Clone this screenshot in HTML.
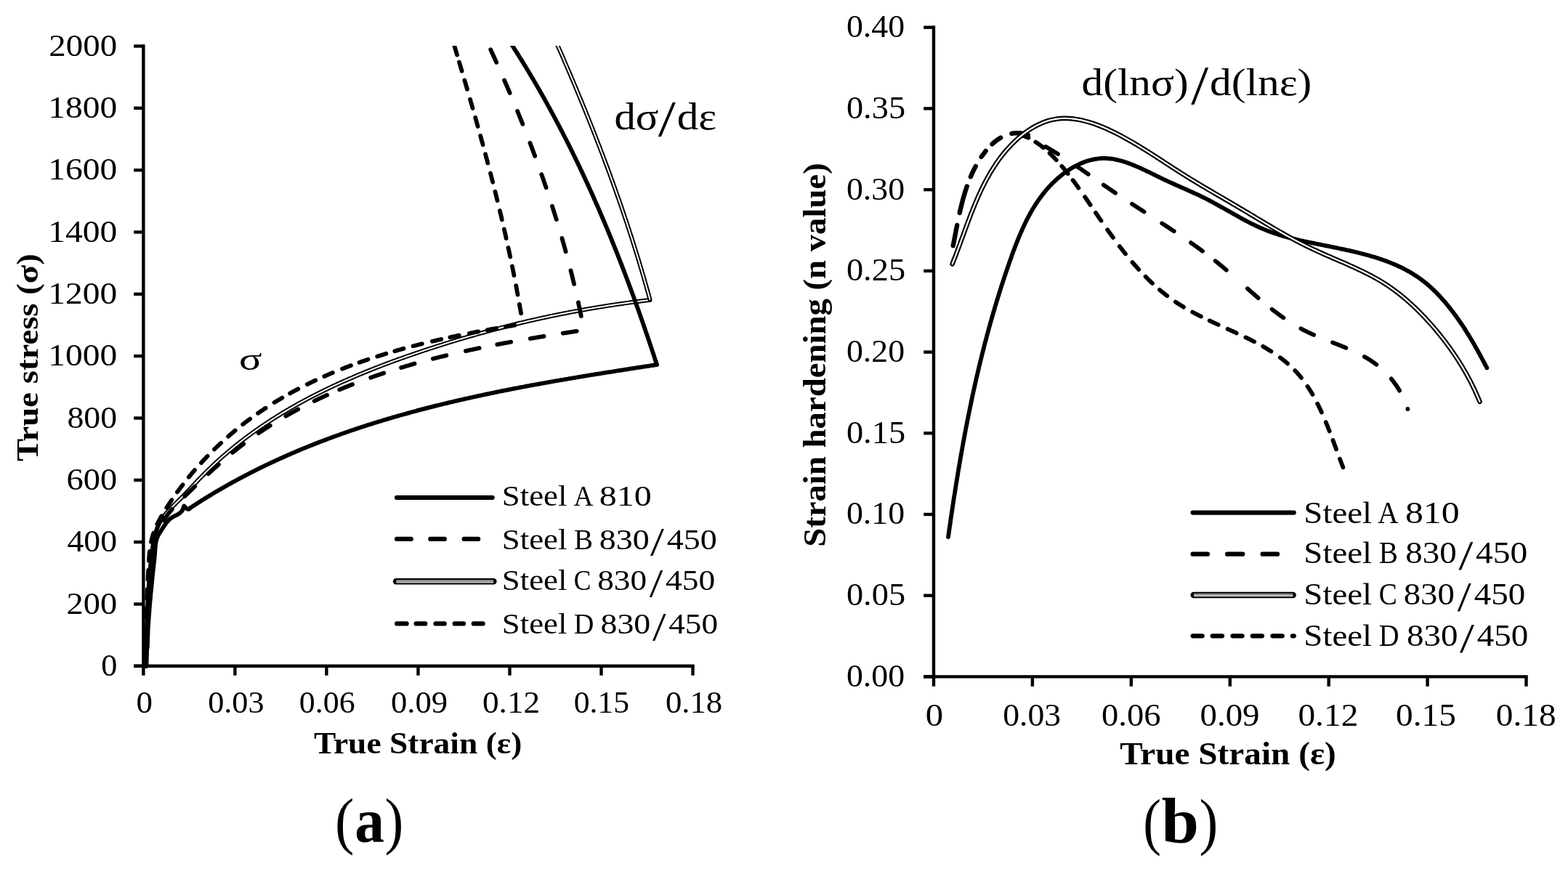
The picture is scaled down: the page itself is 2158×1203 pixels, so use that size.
<!DOCTYPE html>
<html><head><meta charset="utf-8"><title>True stress and strain hardening curves</title>
<style>html,body{margin:0;padding:0;background:#fff;overflow:hidden;width:2158px;height:1203px;}svg{display:block;}
.sa{fill:none;stroke:#000;stroke-width:5.8px;stroke-linejoin:round;stroke-linecap:round}
.sb{fill:none;stroke:#000;stroke-width:5.8px;stroke-dasharray:19.5 26;stroke-linecap:round}
.sd{fill:none;stroke:#000;stroke-width:5.8px;stroke-dasharray:13 13.5;stroke-linecap:round}
.sc1{fill:none;stroke:#000;stroke-width:7.4px;stroke-linejoin:round;stroke-linecap:round}
.sc2{fill:none;stroke:#fff;stroke-width:2.5px;stroke-linejoin:round;stroke-linecap:round}</style></head>
<body><svg width="2158" height="1203" viewBox="0 0 2158 1203">
<rect width="2158" height="1203" fill="#fff"/>
<g stroke="#000" stroke-width="4.4" stroke-linecap="butt" fill="none"><line x1="197.4" y1="61.3" x2="197.4" y2="929.7"/><line x1="184.2" y1="916.8" x2="197.4" y2="916.8"/><line x1="184.2" y1="831.5" x2="197.4" y2="831.5"/><line x1="184.2" y1="746.1" x2="197.4" y2="746.1"/><line x1="184.2" y1="660.8" x2="197.4" y2="660.8"/><line x1="184.2" y1="575.5" x2="197.4" y2="575.5"/><line x1="184.2" y1="490.1" x2="197.4" y2="490.1"/><line x1="184.2" y1="404.8" x2="197.4" y2="404.8"/><line x1="184.2" y1="319.5" x2="197.4" y2="319.5"/><line x1="184.2" y1="234.2" x2="197.4" y2="234.2"/><line x1="184.2" y1="148.8" x2="197.4" y2="148.8"/><line x1="184.2" y1="63.5" x2="197.4" y2="63.5"/><line x1="184.2" y1="916.8" x2="955.7" y2="916.8"/><line x1="323.4" y1="916.8" x2="323.4" y2="929.7"/><line x1="449.4" y1="916.8" x2="449.4" y2="929.7"/><line x1="575.5" y1="916.8" x2="575.5" y2="929.7"/><line x1="701.5" y1="916.8" x2="701.5" y2="929.7"/><line x1="827.5" y1="916.8" x2="827.5" y2="929.7"/><line x1="953.5" y1="916.8" x2="953.5" y2="929.7"/></g>
<g stroke="#000" stroke-width="4.4" stroke-linecap="butt" fill="none"><line x1="1285.0" y1="35.5" x2="1285.0" y2="944.8"/><line x1="1271.2" y1="931.4" x2="1285.0" y2="931.4"/><line x1="1271.2" y1="819.7" x2="1285.0" y2="819.7"/><line x1="1271.2" y1="708.0" x2="1285.0" y2="708.0"/><line x1="1271.2" y1="596.3" x2="1285.0" y2="596.3"/><line x1="1271.2" y1="484.6" x2="1285.0" y2="484.6"/><line x1="1271.2" y1="372.9" x2="1285.0" y2="372.9"/><line x1="1271.2" y1="261.1" x2="1285.0" y2="261.1"/><line x1="1271.2" y1="149.4" x2="1285.0" y2="149.4"/><line x1="1271.2" y1="37.7" x2="1285.0" y2="37.7"/><line x1="1271.2" y1="931.4" x2="2102.7" y2="931.4"/><line x1="1420.9" y1="931.4" x2="1420.9" y2="944.8"/><line x1="1556.8" y1="931.4" x2="1556.8" y2="944.8"/><line x1="1692.8" y1="931.4" x2="1692.8" y2="944.8"/><line x1="1828.7" y1="931.4" x2="1828.7" y2="944.8"/><line x1="1964.6" y1="931.4" x2="1964.6" y2="944.8"/><line x1="2100.5" y1="931.4" x2="2100.5" y2="944.8"/></g>
<defs><clipPath id="cl"><rect x="190" y="63.0" width="800" height="900"/></clipPath></defs>
<g clip-path="url(#cl)"><path d="M200.8,917.0 L200.9,915.0 L200.9,913.0 L200.9,910.9 L201.0,908.9 L201.0,906.9 L201.1,904.9 L201.1,902.9 L201.2,900.9 L201.2,898.9 L201.3,896.9 L201.3,894.9 L201.4,892.9 L201.4,890.8 L201.5,888.8 L201.5,886.8 L201.6,884.8 L201.6,882.8 L201.7,880.8 L201.7,878.8 L201.8,876.8 L201.8,874.9 L201.9,872.9 L201.9,870.9 L202.0,868.9 L202.0,866.9 L202.1,864.9 L202.2,862.9 L202.2,860.9 L202.3,858.9 L202.3,856.9 L202.4,854.9 L202.5,852.9 L202.6,850.9 L202.6,849.0 L202.7,847.0 L202.8,845.0 L202.9,843.0 L202.9,841.0 L203.0,839.0 L203.1,837.0 L203.2,835.0 L203.3,833.0 L203.4,831.0 L203.5,829.1 L203.6,827.1 L203.7,825.1 L203.8,823.1 L203.9,821.1 L204.0,819.1 L204.1,817.1 L204.3,815.1 L204.4,813.1 L204.5,811.1 L204.6,809.1 L204.8,807.1 L204.9,805.1 L205.1,803.1 L205.2,801.1 L205.4,799.1 L205.5,797.1 L205.7,795.1 L205.8,793.1 L206.0,791.1 L206.2,789.1 L206.4,787.1 L206.5,785.1 L206.7,783.1 L206.9,781.1 L207.1,779.1 L207.3,777.1 L207.6,775.1 L207.8,773.0 L208.0,771.0 L208.2,769.0 L208.4,767.0 L208.7,765.0 L208.9,762.9 L209.2,760.9 L209.4,758.9 L209.7,756.9 L210.0,754.8 L210.3,752.8 L210.6,750.8 L210.9,748.8 L211.2,746.8 L211.6,744.8 L212.0,742.8 L212.4,740.8 L212.8,738.8 L213.3,736.9 L213.8,735.0 L214.3,733.1 L214.9,731.2 L215.5,729.3 L216.1,727.5 L216.8,725.7 L217.6,723.9 L218.4,722.1 L219.2,720.4 L220.2,718.7 L221.1,717.0 L222.1,715.4 L223.2,713.8 L224.3,712.3 L225.4,710.7 L226.6,709.2 L227.8,707.7 L229.1,706.2 L230.4,704.7 L231.7,703.3 L233.0,701.8 L234.4,700.4 L235.7,699.0 L237.1,697.6 L238.5,696.2 L240.0,694.8 L241.4,693.4 L242.8,692.0 L244.3,690.5 L245.7,689.1 L247.1,687.7 L248.6,686.3 L250.0,684.9 L251.4,683.4 L252.8,682.0 L254.2,680.5 L255.6,679.1 L257.0,677.6 L258.4,676.1 L259.8,674.7 L261.2,673.2 L262.6,671.7 L264.0,670.2 L265.4,668.7 L266.8,667.3 L268.2,665.8 L269.6,664.3 L271.0,662.8 L272.3,661.4 L273.7,659.9 L275.1,658.4 L276.6,657.0 L278.0,655.5 L279.4,654.1 L280.8,652.6 L282.2,651.2 L283.6,649.8 L285.1,648.3 L286.5,646.9 L288.0,645.5 L289.4,644.1 L290.9,642.7 L292.3,641.3 L293.8,639.9 L295.2,638.6 L296.7,637.2 L298.2,635.8 L299.7,634.5 L301.2,633.1 L302.6,631.8 L304.1,630.5 L305.6,629.1 L307.1,627.8 L308.7,626.5 L310.2,625.2 L311.7,623.9 L313.2,622.6 L314.7,621.3 L316.3,620.0 L317.8,618.7 L319.3,617.4 L320.9,616.2 L322.4,614.9 L324.0,613.7 L325.5,612.4 L327.1,611.2 L328.7,609.9 L330.2,608.7 L331.8,607.5 L333.4,606.3 L335.0,605.0 L336.6,603.8 L338.2,602.6 L339.7,601.4 L341.3,600.3 L342.9,599.1 L344.6,597.9 L346.2,596.7 L347.8,595.6 L349.4,594.4 L351.0,593.2 L352.6,592.1 L354.3,590.9 L355.9,589.8 L357.5,588.7 L359.2,587.5 L360.8,586.4 L362.5,585.3 L364.1,584.2 L365.8,583.1 L367.4,582.0 L369.1,580.9 L370.8,579.8 L372.4,578.7 L374.1,577.7 L375.8,576.6 L377.5,575.5 L379.1,574.5 L380.8,573.4 L382.5,572.3 L384.2,571.3 L385.9,570.3 L387.6,569.2 L389.3,568.2 L391.0,567.2 L392.7,566.1 L394.4,565.1 L396.2,564.1 L397.9,563.1 L399.6,562.1 L401.3,561.1 L403.1,560.1 L404.8,559.1 L406.5,558.2 L408.3,557.2 L410.0,556.2 L411.7,555.2 L413.5,554.3 L415.2,553.3 L417.0,552.4 L418.8,551.4 L420.5,550.5 L422.3,549.5 L424.0,548.6 L425.8,547.7 L427.6,546.7 L429.3,545.8 L431.1,544.9 L432.9,544.0 L434.7,543.1 L436.5,542.2 L438.2,541.3 L440.0,540.4 L441.8,539.5 L443.6,538.6 L445.4,537.7 L447.2,536.8 L449.0,536.0 L450.8,535.1 L452.6,534.2 L454.4,533.4 L456.2,532.5 L458.0,531.7 L459.8,530.8 L461.7,530.0 L463.5,529.1 L465.3,528.3 L467.1,527.5 L468.9,526.6 L470.8,525.8 L472.6,525.0 L474.4,524.2 L476.3,523.4 L478.1,522.6 L479.9,521.8 L481.8,521.0 L483.6,520.2 L485.5,519.4 L487.3,518.6 L489.1,517.8 L491.0,517.0 L492.8,516.2 L494.7,515.4 L496.5,514.7 L498.4,513.9 L500.3,513.1 L502.1,512.4 L504.0,511.6 L505.8,510.9 L507.7,510.1 L509.6,509.4 L511.4,508.6 L513.3,507.9 L515.2,507.1 L517.0,506.4 L518.9,505.7 L520.8,504.9 L522.7,504.2 L524.5,503.5 L526.4,502.8 L528.3,502.1 L530.2,501.3 L532.1,500.6 L533.9,499.9 L535.8,499.2 L537.7,498.5 L539.6,497.8 L541.5,497.1 L543.4,496.4 L545.3,495.8 L547.1,495.1 L549.0,494.4 L550.9,493.7 L552.8,493.0 L554.7,492.4 L556.6,491.7 L558.5,491.0 L560.4,490.3 L562.3,489.7 L564.2,489.0 L566.1,488.4 L568.0,487.7 L569.9,487.1 L571.8,486.4 L573.7,485.8 L575.6,485.1 L577.5,484.5 L579.4,483.8 L581.3,483.2 L583.2,482.5 L585.1,481.9 L587.1,481.3 L589.0,480.7 L590.9,480.0 L592.8,479.4 L594.7,478.8 L596.6,478.2 L598.5,477.5 L600.4,476.9 L602.3,476.3 L604.2,475.7 L606.2,475.1 L608.1,474.5 L610.0,473.9 L611.9,473.3 L613.8,472.7 L615.7,472.1 L617.6,471.5 L619.6,470.9 L621.5,470.3 L623.4,469.7 L625.3,469.2 L627.2,468.6 L629.2,468.0 L631.1,467.4 L633.0,466.9 L634.9,466.3 L636.8,465.7 L638.8,465.1 L640.7,464.6 L642.6,464.0 L644.5,463.5 L646.5,462.9 L648.4,462.4 L650.3,461.8 L652.2,461.3 L654.2,460.7 L656.1,460.2 L658.0,459.6 L660.0,459.1 L661.9,458.5 L663.8,458.0 L665.7,457.5 L667.7,457.0 L669.6,456.4 L671.5,455.9 L673.5,455.4 L675.4,454.9 L677.3,454.3 L679.3,453.8 L681.2,453.3 L683.1,452.8 L685.1,452.3 L687.0,451.8 L689.0,451.3 L690.9,450.8 L692.8,450.3 L694.8,449.8 L696.7,449.3 L698.7,448.8 L700.6,448.3 L702.5,447.9 L704.5,447.4 L706.4,446.9 L708.4,446.4 L710.3,445.9 L712.3,445.5 L714.2,445.0 L716.1,444.5 L718.1,444.1 L720.0,443.6 L722.0,443.2 L723.9,442.7 L725.9,442.2 L727.8,441.8 L729.8,441.3 L731.7,440.9 L733.7,440.5 L735.6,440.0 L737.6,439.6 L739.5,439.1 L741.5,438.7 L743.4,438.3 L745.4,437.8 L747.3,437.4 L749.3,437.0 L751.3,436.6 L753.2,436.2 L755.2,435.7 L757.1,435.3 L759.1,434.9 L761.0,434.5 L763.0,434.1 L765.0,433.7 L766.9,433.3 L768.9,432.9 L770.8,432.5 L772.8,432.1 L774.8,431.7 L776.7,431.3 L778.7,431.0 L780.6,430.6 L782.6,430.2 L784.6,429.8 L786.5,429.4 L788.5,429.1 L790.5,428.7 L792.4,428.3 L794.4,428.0 L796.4,427.6 L798.3,427.2 L800.3,426.9 L802.3,426.5 L804.2,426.2 L806.2,425.8 L808.2,425.5 L810.2,425.1 L812.1,424.8 L814.1,424.5 L816.1,424.1 L818.0,423.8 L820.0,423.5 L822.0,423.1 L824.0,422.8 L825.9,422.5 L827.9,422.2 L829.9,421.9 L831.9,421.5 L833.8,421.2 L835.8,420.9 L837.8,420.6 L839.8,420.3 L841.8,420.0 L843.7,419.7 L845.7,419.4 L847.7,419.1 L849.7,418.8 L851.7,418.5 L853.6,418.3 L855.6,418.0 L857.6,417.7 L859.6,417.4 L861.6,417.1 L863.6,416.9 L865.6,416.6 L867.5,416.3 L869.5,416.1 L871.5,415.8 L873.5,415.5 L875.5,415.3 L877.5,415.0 L879.5,414.8 L881.5,414.5 L883.4,414.3 L885.4,414.1 L887.4,413.8 L889.4,413.6 L891.4,413.3 L893.4,413.1 L894.4,413.0" class="sc1" style="stroke-width:6.0px"/><path d="M226.6,709.2 L227.8,707.7 L229.1,706.2 L230.4,704.7 L231.7,703.3 L233.0,701.8 L234.4,700.4 L235.7,699.0 L237.1,697.6 L238.5,696.2 L240.0,694.8 L241.4,693.4 L242.8,692.0 L244.3,690.5 L245.7,689.1 L247.1,687.7 L248.6,686.3 L250.0,684.9 L251.4,683.4 L252.8,682.0 L254.2,680.5 L255.6,679.1 L257.0,677.6 L258.4,676.1 L259.8,674.7 L261.2,673.2 L262.6,671.7 L264.0,670.2 L265.4,668.7 L266.8,667.3 L268.2,665.8 L269.6,664.3 L271.0,662.8 L272.3,661.4 L273.7,659.9 L275.1,658.4 L276.6,657.0 L278.0,655.5 L279.4,654.1 L280.8,652.6 L282.2,651.2 L283.6,649.8 L285.1,648.3 L286.5,646.9 L288.0,645.5 L289.4,644.1 L290.9,642.7 L292.3,641.3 L293.8,639.9 L295.2,638.6 L296.7,637.2 L298.2,635.8 L299.7,634.5 L301.2,633.1 L302.6,631.8 L304.1,630.5 L305.6,629.1 L307.1,627.8 L308.7,626.5 L310.2,625.2 L311.7,623.9 L313.2,622.6 L314.7,621.3 L316.3,620.0 L317.8,618.7 L319.3,617.4 L320.9,616.2 L322.4,614.9 L324.0,613.7 L325.5,612.4 L327.1,611.2 L328.7,609.9 L330.2,608.7 L331.8,607.5 L333.4,606.3 L335.0,605.0 L336.6,603.8 L338.2,602.6 L339.7,601.4 L341.3,600.3 L342.9,599.1 L344.6,597.9 L346.2,596.7 L347.8,595.6 L349.4,594.4 L351.0,593.2 L352.6,592.1 L354.3,590.9 L355.9,589.8 L357.5,588.7 L359.2,587.5 L360.8,586.4 L362.5,585.3 L364.1,584.2 L365.8,583.1 L367.4,582.0 L369.1,580.9 L370.8,579.8 L372.4,578.7 L374.1,577.7 L375.8,576.6 L377.5,575.5 L379.1,574.5 L380.8,573.4 L382.5,572.3 L384.2,571.3 L385.9,570.3 L387.6,569.2 L389.3,568.2 L391.0,567.2 L392.7,566.1 L394.4,565.1 L396.2,564.1 L397.9,563.1 L399.6,562.1 L401.3,561.1 L403.1,560.1 L404.8,559.1 L406.5,558.2 L408.3,557.2 L410.0,556.2 L411.7,555.2 L413.5,554.3 L415.2,553.3 L417.0,552.4 L418.8,551.4 L420.5,550.5 L422.3,549.5 L424.0,548.6 L425.8,547.7 L427.6,546.7 L429.3,545.8 L431.1,544.9 L432.9,544.0 L434.7,543.1 L436.5,542.2 L438.2,541.3 L440.0,540.4 L441.8,539.5 L443.6,538.6 L445.4,537.7 L447.2,536.8 L449.0,536.0 L450.8,535.1 L452.6,534.2 L454.4,533.4 L456.2,532.5 L458.0,531.7 L459.8,530.8 L461.7,530.0 L463.5,529.1 L465.3,528.3 L467.1,527.5 L468.9,526.6 L470.8,525.8 L472.6,525.0 L474.4,524.2 L476.3,523.4 L478.1,522.6 L479.9,521.8 L481.8,521.0 L483.6,520.2 L485.5,519.4 L487.3,518.6 L489.1,517.8 L491.0,517.0 L492.8,516.2 L494.7,515.4 L496.5,514.7 L498.4,513.9 L500.3,513.1 L502.1,512.4 L504.0,511.6 L505.8,510.9 L507.7,510.1 L509.6,509.4 L511.4,508.6 L513.3,507.9 L515.2,507.1 L517.0,506.4 L518.9,505.7 L520.8,504.9 L522.7,504.2 L524.5,503.5 L526.4,502.8 L528.3,502.1 L530.2,501.3 L532.1,500.6 L533.9,499.9 L535.8,499.2 L537.7,498.5 L539.6,497.8 L541.5,497.1 L543.4,496.4 L545.3,495.8 L547.1,495.1 L549.0,494.4 L550.9,493.7 L552.8,493.0 L554.7,492.4 L556.6,491.7 L558.5,491.0 L560.4,490.3 L562.3,489.7 L564.2,489.0 L566.1,488.4 L568.0,487.7 L569.9,487.1 L571.8,486.4 L573.7,485.8 L575.6,485.1 L577.5,484.5 L579.4,483.8 L581.3,483.2 L583.2,482.5 L585.1,481.9 L587.1,481.3 L589.0,480.7 L590.9,480.0 L592.8,479.4 L594.7,478.8 L596.6,478.2 L598.5,477.5 L600.4,476.9 L602.3,476.3 L604.2,475.7 L606.2,475.1 L608.1,474.5 L610.0,473.9 L611.9,473.3 L613.8,472.7 L615.7,472.1 L617.6,471.5 L619.6,470.9 L621.5,470.3 L623.4,469.7 L625.3,469.2 L627.2,468.6 L629.2,468.0 L631.1,467.4 L633.0,466.9 L634.9,466.3 L636.8,465.7 L638.8,465.1 L640.7,464.6 L642.6,464.0 L644.5,463.5 L646.5,462.9 L648.4,462.4 L650.3,461.8 L652.2,461.3 L654.2,460.7 L656.1,460.2 L658.0,459.6 L660.0,459.1 L661.9,458.5 L663.8,458.0 L665.7,457.5 L667.7,457.0 L669.6,456.4 L671.5,455.9 L673.5,455.4 L675.4,454.9 L677.3,454.3 L679.3,453.8 L681.2,453.3 L683.1,452.8 L685.1,452.3 L687.0,451.8 L689.0,451.3 L690.9,450.8 L692.8,450.3 L694.8,449.8 L696.7,449.3 L698.7,448.8 L700.6,448.3 L702.5,447.9 L704.5,447.4 L706.4,446.9 L708.4,446.4 L710.3,445.9 L712.3,445.5 L714.2,445.0 L716.1,444.5 L718.1,444.1 L720.0,443.6 L722.0,443.2 L723.9,442.7 L725.9,442.2 L727.8,441.8 L729.8,441.3 L731.7,440.9 L733.7,440.5 L735.6,440.0 L737.6,439.6 L739.5,439.1 L741.5,438.7 L743.4,438.3 L745.4,437.8 L747.3,437.4 L749.3,437.0 L751.3,436.6 L753.2,436.2 L755.2,435.7 L757.1,435.3 L759.1,434.9 L761.0,434.5 L763.0,434.1 L765.0,433.7 L766.9,433.3 L768.9,432.9 L770.8,432.5 L772.8,432.1 L774.8,431.7 L776.7,431.3 L778.7,431.0 L780.6,430.6 L782.6,430.2 L784.6,429.8 L786.5,429.4 L788.5,429.1 L790.5,428.7 L792.4,428.3 L794.4,428.0 L796.4,427.6 L798.3,427.2 L800.3,426.9 L802.3,426.5 L804.2,426.2 L806.2,425.8 L808.2,425.5 L810.2,425.1 L812.1,424.8 L814.1,424.5 L816.1,424.1 L818.0,423.8 L820.0,423.5 L822.0,423.1 L824.0,422.8 L825.9,422.5 L827.9,422.2 L829.9,421.9 L831.9,421.5 L833.8,421.2 L835.8,420.9 L837.8,420.6 L839.8,420.3 L841.8,420.0 L843.7,419.7 L845.7,419.4 L847.7,419.1 L849.7,418.8 L851.7,418.5 L853.6,418.3 L855.6,418.0 L857.6,417.7 L859.6,417.4 L861.6,417.1 L863.6,416.9 L865.6,416.6 L867.5,416.3 L869.5,416.1 L871.5,415.8 L873.5,415.5 L875.5,415.3 L877.5,415.0 L879.5,414.8 L881.5,414.5 L883.4,414.3 L885.4,414.1 L887.4,413.8 L889.4,413.6 L891.4,413.3 L893.4,413.1 L894.4,413.0" class="sc2" style="stroke-width:2.0px"/><path d="M765.0,57.0 L765.8,58.8 L766.6,60.7 L767.4,62.5 L768.2,64.3 L769.0,66.2 L769.8,68.0 L770.7,69.9 L771.5,71.7 L772.3,73.5 L773.1,75.4 L773.9,77.2 L774.7,79.0 L775.5,80.9 L776.3,82.7 L777.0,84.6 L777.8,86.4 L778.6,88.3 L779.4,90.1 L780.2,91.9 L781.0,93.8 L781.8,95.6 L782.6,97.5 L783.4,99.3 L784.2,101.2 L785.0,103.0 L785.7,104.9 L786.5,106.7 L787.3,108.5 L788.1,110.4 L788.9,112.2 L789.6,114.1 L790.4,115.9 L791.2,117.8 L792.0,119.6 L792.7,121.5 L793.5,123.3 L794.3,125.2 L795.1,127.1 L795.8,128.9 L796.6,130.8 L797.4,132.6 L798.1,134.5 L798.9,136.3 L799.7,138.2 L800.4,140.0 L801.2,141.9 L801.9,143.7 L802.7,145.6 L803.5,147.5 L804.2,149.3 L805.0,151.2 L805.7,153.0 L806.5,154.9 L807.2,156.8 L808.0,158.6 L808.7,160.5 L809.5,162.3 L810.2,164.2 L811.0,166.1 L811.7,167.9 L812.5,169.8 L813.2,171.7 L813.9,173.5 L814.7,175.4 L815.4,177.3 L816.2,179.1 L816.9,181.0 L817.6,182.9 L818.3,184.7 L819.1,186.6 L819.8,188.5 L820.5,190.3 L821.3,192.2 L822.0,194.1 L822.7,196.0 L823.4,197.8 L824.2,199.7 L824.9,201.6 L825.6,203.4 L826.3,205.3 L827.0,207.2 L827.7,209.1 L828.5,210.9 L829.2,212.8 L829.9,214.7 L830.6,216.6 L831.3,218.5 L832.0,220.3 L832.7,222.2 L833.4,224.1 L834.1,226.0 L834.8,227.9 L835.5,229.7 L836.2,231.6 L836.9,233.5 L837.6,235.4 L838.3,237.3 L839.0,239.1 L839.7,241.0 L840.3,242.9 L841.0,244.8 L841.7,246.7 L842.4,248.6 L843.1,250.5 L843.8,252.3 L844.4,254.2 L845.1,256.1 L845.8,258.0 L846.5,259.9 L847.1,261.8 L847.8,263.7 L848.5,265.6 L849.1,267.5 L849.8,269.4 L850.5,271.3 L851.1,273.1 L851.8,275.0 L852.4,276.9 L853.1,278.8 L853.8,280.7 L854.4,282.6 L855.1,284.5 L855.7,286.4 L856.4,288.3 L857.0,290.2 L857.6,292.1 L858.3,294.0 L858.9,295.9 L859.6,297.8 L860.2,299.7 L860.9,301.6 L861.5,303.5 L862.1,305.4 L862.8,307.3 L863.4,309.2 L864.0,311.1 L864.6,313.1 L865.3,315.0 L865.9,316.9 L866.5,318.8 L867.1,320.7 L867.7,322.6 L868.4,324.5 L869.0,326.4 L869.6,328.3 L870.2,330.2 L870.8,332.1 L871.4,334.1 L872.0,336.0 L872.6,337.9 L873.2,339.8 L873.8,341.7 L874.4,343.6 L875.0,345.5 L875.6,347.5 L876.2,349.4 L876.8,351.3 L877.4,353.2 L878.0,355.1 L878.6,357.0 L879.1,359.0 L879.7,360.9 L880.3,362.8 L880.9,364.7 L881.4,366.7 L882.0,368.6 L882.6,370.5 L883.2,372.4 L883.7,374.3 L884.3,376.3 L884.9,378.2 L885.4,380.1 L886.0,382.1 L886.5,384.0 L887.1,385.9 L887.6,387.8 L888.2,389.8 L888.7,391.7 L889.3,393.6 L889.8,395.6 L890.4,397.5 L890.9,399.4 L891.5,401.4 L892.0,403.3 L892.5,405.2 L893.1,407.2 L893.6,409.1 L894.1,411.0 L894.4,412.0" class="sc1" style="stroke-width:6.0px"/><path d="M765.0,57.0 L765.8,58.8 L766.6,60.7 L767.4,62.5 L768.2,64.3 L769.0,66.2 L769.8,68.0 L770.7,69.9 L771.5,71.7 L772.3,73.5 L773.1,75.4 L773.9,77.2 L774.7,79.0 L775.5,80.9 L776.3,82.7 L777.0,84.6 L777.8,86.4 L778.6,88.3 L779.4,90.1 L780.2,91.9 L781.0,93.8 L781.8,95.6 L782.6,97.5 L783.4,99.3 L784.2,101.2 L785.0,103.0 L785.7,104.9 L786.5,106.7 L787.3,108.5 L788.1,110.4 L788.9,112.2 L789.6,114.1 L790.4,115.9 L791.2,117.8 L792.0,119.6 L792.7,121.5 L793.5,123.3 L794.3,125.2 L795.1,127.1 L795.8,128.9 L796.6,130.8 L797.4,132.6 L798.1,134.5 L798.9,136.3 L799.7,138.2 L800.4,140.0 L801.2,141.9 L801.9,143.7 L802.7,145.6 L803.5,147.5 L804.2,149.3 L805.0,151.2 L805.7,153.0 L806.5,154.9 L807.2,156.8 L808.0,158.6 L808.7,160.5 L809.5,162.3 L810.2,164.2 L811.0,166.1 L811.7,167.9 L812.5,169.8 L813.2,171.7 L813.9,173.5 L814.7,175.4 L815.4,177.3 L816.2,179.1 L816.9,181.0 L817.6,182.9 L818.3,184.7 L819.1,186.6 L819.8,188.5 L820.5,190.3 L821.3,192.2 L822.0,194.1 L822.7,196.0 L823.4,197.8 L824.2,199.7 L824.9,201.6 L825.6,203.4 L826.3,205.3 L827.0,207.2 L827.7,209.1 L828.5,210.9 L829.2,212.8 L829.9,214.7 L830.6,216.6 L831.3,218.5 L832.0,220.3 L832.7,222.2 L833.4,224.1 L834.1,226.0 L834.8,227.9 L835.5,229.7 L836.2,231.6 L836.9,233.5 L837.6,235.4 L838.3,237.3 L839.0,239.1 L839.7,241.0 L840.3,242.9 L841.0,244.8 L841.7,246.7 L842.4,248.6 L843.1,250.5 L843.8,252.3 L844.4,254.2 L845.1,256.1 L845.8,258.0 L846.5,259.9 L847.1,261.8 L847.8,263.7 L848.5,265.6 L849.1,267.5 L849.8,269.4 L850.5,271.3 L851.1,273.1 L851.8,275.0 L852.4,276.9 L853.1,278.8 L853.8,280.7 L854.4,282.6 L855.1,284.5 L855.7,286.4 L856.4,288.3 L857.0,290.2 L857.6,292.1 L858.3,294.0 L858.9,295.9 L859.6,297.8 L860.2,299.7 L860.9,301.6 L861.5,303.5 L862.1,305.4 L862.8,307.3 L863.4,309.2 L864.0,311.1 L864.6,313.1 L865.3,315.0 L865.9,316.9 L866.5,318.8 L867.1,320.7 L867.7,322.6 L868.4,324.5 L869.0,326.4 L869.6,328.3 L870.2,330.2 L870.8,332.1 L871.4,334.1 L872.0,336.0 L872.6,337.9 L873.2,339.8 L873.8,341.7 L874.4,343.6 L875.0,345.5 L875.6,347.5 L876.2,349.4 L876.8,351.3 L877.4,353.2 L878.0,355.1 L878.6,357.0 L879.1,359.0 L879.7,360.9 L880.3,362.8 L880.9,364.7 L881.4,366.7 L882.0,368.6 L882.6,370.5 L883.2,372.4 L883.7,374.3 L884.3,376.3 L884.9,378.2 L885.4,380.1 L886.0,382.1 L886.5,384.0 L887.1,385.9 L887.6,387.8 L888.2,389.8 L888.7,391.7 L889.3,393.6 L889.8,395.6 L890.4,397.5 L890.9,399.4 L891.5,401.4 L892.0,403.3 L892.5,405.2 L893.1,407.2 L893.6,409.1 L894.1,411.0 L894.4,412.0" class="sc2" style="stroke-width:2.0px"/><path d="M201.5,917.0 L201.5,915.0 L201.6,913.0 L201.6,911.0 L201.7,909.0 L201.8,907.0 L201.8,905.0 L201.9,903.0 L202.0,900.9 L202.0,898.9 L202.1,896.9 L202.2,894.9 L202.3,892.9 L202.4,890.9 L202.4,888.9 L202.5,886.9 L202.6,884.9 L202.7,882.9 L202.8,880.9 L202.9,878.9 L203.0,876.8 L203.2,874.8 L203.3,872.8 L203.4,870.8 L203.5,868.8 L203.6,866.8 L203.7,864.8 L203.9,862.8 L204.0,860.8 L204.1,858.8 L204.3,856.8 L204.4,854.8 L204.6,852.8 L204.7,850.7 L204.8,848.7 L205.0,846.7 L205.1,844.7 L205.3,842.7 L205.5,840.7 L205.6,838.7 L205.8,836.7 L205.9,834.7 L206.1,832.7 L206.3,830.7 L206.4,828.7 L206.6,826.7 L206.8,824.7 L207.0,822.7 L207.2,820.7 L207.3,818.7 L207.5,816.7 L207.7,814.7 L207.9,812.7 L208.1,810.7 L208.3,808.7 L208.5,806.7 L208.7,804.7 L208.9,802.7 L209.1,800.7 L209.3,798.7 L209.5,796.7 L209.7,794.7 L209.9,792.7 L210.1,790.7 L210.3,788.7 L210.5,786.7 L210.8,784.7 L211.0,782.7 L211.2,780.7 L211.4,778.7 L211.6,776.8 L211.9,774.8 L212.1,772.8 L212.3,770.8 L212.5,768.8 L212.7,766.8 L212.9,764.7 L213.1,762.7 L213.2,760.7 L213.4,758.7 L213.5,756.6 L213.6,754.6 L213.8,752.5 L214.0,750.5 L214.2,748.5 L214.6,746.5 L215.0,744.6 L215.4,742.6 L216.1,740.8 L216.8,738.9 L217.6,737.1 L218.6,735.4 L219.6,733.7 L220.7,732.0 L221.8,730.3 L222.9,728.6 L224.0,726.8 L225.1,725.1 L226.2,723.4 L227.4,721.8 L228.5,720.1 L229.8,718.5 L231.1,717.0 L232.4,715.6 L233.9,714.3 L235.5,713.1 L237.1,712.0 L238.9,711.0 L240.7,710.1 L242.5,709.2 L244.3,708.2 L246.0,707.2 L247.5,706.1 L249.0,704.9 L250.3,703.5 L251.3,701.9 L252.1,700.0 L252.7,697.9 L253.3,696.5 L254.7,697.7 L256.4,699.6 L258.3,700.8 L260.1,700.8 L262.0,699.0" class="sa"/><path d="M262.0,699.0 L263.7,697.9 L265.4,696.8 L267.1,695.7 L268.8,694.6 L270.5,693.5 L272.2,692.4 L273.9,691.3 L275.6,690.2 L277.3,689.1 L279.0,688.1 L280.7,687.0 L282.4,685.9 L284.2,684.9 L285.9,683.8 L287.6,682.8 L289.3,681.7 L291.0,680.7 L292.8,679.6 L294.5,678.6 L296.2,677.6 L297.9,676.6 L299.7,675.5 L301.4,674.5 L303.2,673.5 L304.9,672.5 L306.6,671.5 L308.4,670.5 L310.1,669.5 L311.9,668.5 L313.6,667.5 L315.4,666.5 L317.1,665.6 L318.9,664.6 L320.6,663.6 L322.4,662.7 L324.1,661.7 L325.9,660.7 L327.7,659.8 L329.4,658.8 L331.2,657.9 L333.0,657.0 L334.7,656.0 L336.5,655.1 L338.3,654.2 L340.1,653.2 L341.8,652.3 L343.6,651.4 L345.4,650.5 L347.2,649.6 L349.0,648.7 L350.8,647.8 L352.5,646.9 L354.3,646.0 L356.1,645.1 L357.9,644.2 L359.7,643.3 L361.5,642.5 L363.3,641.6 L365.1,640.7 L366.9,639.9 L368.7,639.0 L370.5,638.1 L372.3,637.3 L374.1,636.4 L375.9,635.6 L377.7,634.8 L379.6,633.9 L381.4,633.1 L383.2,632.3 L385.0,631.4 L386.8,630.6 L388.6,629.8 L390.5,629.0 L392.3,628.2 L394.1,627.4 L395.9,626.5 L397.8,625.7 L399.6,625.0 L401.4,624.2 L403.3,623.4 L405.1,622.6 L406.9,621.8 L408.8,621.0 L410.6,620.2 L412.4,619.5 L414.3,618.7 L416.1,617.9 L418.0,617.2 L419.8,616.4 L421.7,615.7 L423.5,614.9 L425.4,614.2 L427.2,613.4 L429.1,612.7 L430.9,612.0 L432.8,611.2 L434.6,610.5 L436.5,609.8 L438.3,609.0 L440.2,608.3 L442.1,607.6 L443.9,606.9 L445.8,606.2 L447.7,605.5 L449.5,604.8 L451.4,604.1 L453.3,603.4 L455.1,602.7 L457.0,602.0 L458.9,601.3 L460.7,600.6 L462.6,599.9 L464.5,599.3 L466.4,598.6 L468.3,597.9 L470.1,597.2 L472.0,596.6 L473.9,595.9 L475.8,595.3 L477.7,594.6 L479.6,593.9 L481.4,593.3 L483.3,592.6 L485.2,592.0 L487.1,591.4 L489.0,590.7 L490.9,590.1 L492.8,589.5 L494.7,588.8 L496.6,588.2 L498.5,587.6 L500.4,587.0 L502.3,586.3 L504.2,585.7 L506.1,585.1 L508.0,584.5 L509.9,583.9 L511.8,583.3 L513.7,582.7 L515.6,582.1 L517.5,581.5 L519.4,580.9 L521.4,580.3 L523.3,579.7 L525.2,579.2 L527.1,578.6 L529.0,578.0 L530.9,577.4 L532.8,576.9 L534.8,576.3 L536.7,575.7 L538.6,575.2 L540.5,574.6 L542.4,574.0 L544.4,573.5 L546.3,572.9 L548.2,572.4 L550.1,571.8 L552.1,571.3 L554.0,570.7 L555.9,570.2 L557.8,569.7 L559.8,569.1 L561.7,568.6 L563.6,568.1 L565.6,567.5 L567.5,567.0 L569.4,566.5 L571.4,566.0 L573.3,565.4 L575.2,564.9 L577.2,564.4 L579.1,563.9 L581.0,563.4 L583.0,562.9 L584.9,562.4 L586.9,561.9 L588.8,561.4 L590.8,560.9 L592.7,560.4 L594.6,559.9 L596.6,559.4 L598.5,558.9 L600.5,558.4 L602.4,557.9 L604.4,557.5 L606.3,557.0 L608.3,556.5 L610.2,556.0 L612.2,555.5 L614.1,555.1 L616.1,554.6 L618.0,554.1 L620.0,553.7 L621.9,553.2 L623.9,552.8 L625.8,552.3 L627.8,551.8 L629.7,551.4 L631.7,550.9 L633.7,550.5 L635.6,550.0 L637.6,549.6 L639.5,549.1 L641.5,548.7 L643.4,548.3 L645.4,547.8 L647.4,547.4 L649.3,547.0 L651.3,546.5 L653.3,546.1 L655.2,545.7 L657.2,545.2 L659.1,544.8 L661.1,544.4 L663.1,544.0 L665.0,543.5 L667.0,543.1 L669.0,542.7 L670.9,542.3 L672.9,541.9 L674.9,541.5 L676.8,541.1 L678.8,540.7 L680.8,540.2 L682.7,539.8 L684.7,539.4 L686.7,539.0 L688.7,538.6 L690.6,538.2 L692.6,537.8 L694.6,537.4 L696.5,537.1 L698.5,536.7 L700.5,536.3 L702.5,535.9 L704.4,535.5 L706.4,535.1 L708.4,534.7 L710.4,534.3 L712.3,534.0 L714.3,533.6 L716.3,533.2 L718.2,532.8 L720.2,532.5 L722.2,532.1 L724.2,531.7 L726.2,531.3 L728.1,531.0 L730.1,530.6 L732.1,530.2 L734.1,529.9 L736.0,529.5 L738.0,529.1 L740.0,528.8 L742.0,528.4 L743.9,528.1 L745.9,527.7 L747.9,527.4 L749.9,527.0 L751.9,526.6 L753.8,526.3 L755.8,525.9 L757.8,525.6 L759.8,525.2 L761.7,524.9 L763.7,524.5 L765.7,524.2 L767.7,523.9 L769.7,523.5 L771.6,523.2 L773.6,522.8 L775.6,522.5 L777.6,522.1 L779.6,521.8 L781.5,521.5 L783.5,521.1 L785.5,520.8 L787.5,520.5 L789.5,520.1 L791.4,519.8 L793.4,519.5 L795.4,519.1 L797.4,518.8 L799.4,518.5 L801.3,518.2 L803.3,517.8 L805.3,517.5 L807.3,517.2 L809.3,516.9 L811.2,516.5 L813.2,516.2 L815.2,515.9 L817.2,515.6 L819.1,515.2 L821.1,514.9 L823.1,514.6 L825.1,514.3 L827.1,514.0 L829.0,513.7 L831.0,513.3 L833.0,513.0 L835.0,512.7 L836.9,512.4 L838.9,512.1 L840.9,511.8 L842.9,511.5 L844.8,511.1 L846.8,510.8 L848.8,510.5 L850.8,510.2 L852.8,509.9 L854.7,509.6 L856.7,509.3 L858.7,509.0 L860.6,508.7 L862.6,508.4 L864.6,508.1 L866.6,507.7 L868.5,507.4 L870.5,507.1 L872.5,506.8 L874.5,506.5 L876.4,506.2 L878.4,505.9 L880.4,505.6 L882.3,505.3 L884.3,505.0 L886.3,504.7 L888.3,504.4 L890.2,504.1 L892.2,503.8 L894.2,503.5 L896.1,503.2 L898.1,502.9 L900.1,502.6 L902.0,502.3 L904.0,502.0" class="sa"/><path d="M201.0,917.0 L201.0,917.0 L201.1,916.4 M202.7,891.1 L202.7,890.2 L202.8,889.2 L202.8,888.2 L202.9,887.3 L202.9,886.3 L203.0,885.3 L203.0,884.3 L203.0,883.3 L203.1,882.3 L203.1,881.3 L203.1,880.3 L203.2,879.3 L203.2,878.3 L203.2,877.2 L203.3,876.2 L203.3,875.2 L203.3,874.2 L203.3,873.2 L203.4,872.2 L203.4,872.0 M204.0,846.7 L204.0,846.1 L204.0,845.1 L204.0,844.1 L204.1,843.1 L204.1,842.0 L204.1,841.0 L204.1,840.0 L204.2,839.0 L204.2,838.0 L204.2,837.0 L204.2,836.0 L204.3,835.0 L204.3,834.0 L204.3,833.0 L204.4,832.0 L204.4,831.0 L204.4,829.9 L204.5,828.9 L204.5,827.9 L204.5,827.5 M205.7,802.2 L205.8,801.7 L205.8,800.7 L205.9,799.7 L206.0,798.7 L206.1,797.7 L206.1,796.7 L206.2,795.7 L206.3,794.7 L206.4,793.7 L206.5,792.7 L206.5,791.7 L206.6,790.7 L206.7,789.7 L206.8,788.7 L206.9,787.7 L207.0,786.7 L207.1,785.7 L207.2,784.7 L207.3,783.7 L207.4,783.1 M210.9,758.1 L211.0,757.8 L211.1,756.8 L211.3,755.8 L211.5,754.9 L211.7,753.9 L211.9,752.9 L212.1,751.9 L212.3,750.9 L212.5,749.9 L212.7,749.0 L213.0,748.0 L213.2,747.0 L213.4,746.1 L213.7,745.1 L213.9,744.1 L214.2,743.2 L214.4,742.2 L214.7,741.2 L214.9,740.3 L215.2,739.4 M225.2,716.3 L225.3,716.1 L225.8,715.3 L226.3,714.5 L226.9,713.7 L227.4,712.9 L227.9,712.1 L228.5,711.3 L229.1,710.5 L229.7,709.7 L230.2,708.9 L230.8,708.2 L231.4,707.4 L232.0,706.6 L232.6,705.9 L233.3,705.1 L233.9,704.3 L234.5,703.6 L235.2,702.8 L235.8,702.1 L236.5,701.4 L236.8,701.0 M254.5,682.9 L254.7,682.7 L255.4,682.0 L256.1,681.3 L256.8,680.6 L257.5,679.9 L258.3,679.2 L259.0,678.5 L259.7,677.8 L260.4,677.1 L261.2,676.4 L261.9,675.7 L262.6,675.0 L263.4,674.3 L264.1,673.6 L264.8,672.9 L265.5,672.1 L266.3,671.4 L267.0,670.7 L267.7,670.0 L268.2,669.5 M286.6,652.2 L286.9,651.9 L287.7,651.2 L288.4,650.6 L289.2,649.9 L289.9,649.2 L290.6,648.5 L291.4,647.8 L292.1,647.1 L292.9,646.4 L293.6,645.8 L294.4,645.1 L295.2,644.4 L295.9,643.7 L296.7,643.1 L297.4,642.4 L298.2,641.7 L298.9,641.0 L299.7,640.4 L300.4,639.7 L300.9,639.3 M320.1,622.9 L320.5,622.7 L321.2,622.0 L322.0,621.4 L322.8,620.8 L323.6,620.1 L324.4,619.5 L325.2,618.9 L326.0,618.3 L326.7,617.6 L327.5,617.0 L328.3,616.4 L329.1,615.8 L329.9,615.2 L330.7,614.6 L331.5,613.9 L332.3,613.3 L333.1,612.7 L333.9,612.1 L334.7,611.5 L335.2,611.1 M355.8,596.3 L355.8,596.3 L356.6,595.8 L357.4,595.2 L358.3,594.6 L359.1,594.1 L359.9,593.5 L360.8,593.0 L361.6,592.4 L362.4,591.9 L363.2,591.3 L364.1,590.8 L364.9,590.2 L365.7,589.7 L366.6,589.1 L367.4,588.6 L368.3,588.0 L369.1,587.5 L369.9,587.0 L370.8,586.4 L371.6,585.9 L371.8,585.8 M393.4,572.7 L393.8,572.5 L394.6,572.0 L395.5,571.5 L396.3,571.0 L397.2,570.5 L398.1,570.0 L398.9,569.6 L399.8,569.1 L400.7,568.6 L401.5,568.1 L402.4,567.6 L403.3,567.1 L404.2,566.7 L405.0,566.2 L405.9,565.7 L406.8,565.2 L407.7,564.8 L408.5,564.3 L409.4,563.8 L410.2,563.4 M432.7,551.9 L433.3,551.6 L434.2,551.2 L435.1,550.8 L436.0,550.3 L436.9,549.9 L437.8,549.5 L438.7,549.0 L439.6,548.6 L440.5,548.2 L441.4,547.8 L442.3,547.3 L443.2,546.9 L444.1,546.5 L445.0,546.1 L445.9,545.7 L446.8,545.3 L447.7,544.8 L448.6,544.4 L449.6,544.0 L450.1,543.8 M467.3,536.3 L467.8,536.1 L468.7,535.7 L469.7,535.3 L470.6,534.9 L471.5,534.5 L472.4,534.1 L473.4,533.8 L474.3,533.4 L475.2,533.0 L476.1,532.6 L477.1,532.3 L478.0,531.9 L478.9,531.5 L479.8,531.1 L480.8,530.8 L481.7,530.4 L482.6,530.0 L483.5,529.7 L484.5,529.3 L485.0,529.1 M510.2,519.7 L510.7,519.5 L511.7,519.2 L512.6,518.9 L513.5,518.5 L514.5,518.2 L515.4,517.9 L516.4,517.5 L517.3,517.2 L518.3,516.9 L519.2,516.6 L520.2,516.2 L521.1,515.9 L522.1,515.6 L523.0,515.3 L524.0,515.0 L524.9,514.6 L525.9,514.3 L526.8,514.0 L527.8,513.7 L528.3,513.5 M552.1,506.0 L552.7,505.8 L553.6,505.5 L554.6,505.3 L555.6,505.0 L556.5,504.7 L557.5,504.4 L558.5,504.1 L559.4,503.8 L560.4,503.5 L561.3,503.3 L562.3,503.0 L563.3,502.7 L564.2,502.4 L565.2,502.2 L566.2,501.9 L567.1,501.6 L568.1,501.3 L569.1,501.0 L570.0,500.8 L570.6,500.6 M595.8,493.8 L596.3,493.7 L597.3,493.5 L598.3,493.2 L599.2,493.0 L600.2,492.7 L601.2,492.5 L602.2,492.2 L603.1,492.0 L604.1,491.7 L605.1,491.5 L606.1,491.2 L607.1,491.0 L608.0,490.8 L609.0,490.5 L610.0,490.3 L611.0,490.0 L611.9,489.8 L612.9,489.6 L613.9,489.3 L614.4,489.2 M640.9,483.1 L641.4,483.0 L642.4,482.8 L643.4,482.6 L644.4,482.4 L645.4,482.1 L646.3,481.9 L647.3,481.7 L648.3,481.5 L649.3,481.3 L650.3,481.1 L651.3,480.9 L652.3,480.7 L653.2,480.5 L654.2,480.3 L655.2,480.0 L656.2,479.8 L657.2,479.6 L658.2,479.4 L659.2,479.2 L659.7,479.1 M684.3,474.2 L684.8,474.1 L685.8,473.9 L686.8,473.7 L687.8,473.5 L688.8,473.4 L689.8,473.2 L690.8,473.0 L691.7,472.8 L692.7,472.6 L693.7,472.4 L694.7,472.2 L695.7,472.1 L696.7,471.9 L697.7,471.7 L698.7,471.5 L699.7,471.3 L700.6,471.1 L701.6,471.0 L702.6,470.8 L703.2,470.7 M729.7,466.0 L730.3,465.9 L731.2,465.8 L732.2,465.6 L733.2,465.4 L734.2,465.3 L735.2,465.1 L736.2,464.9 L737.2,464.8 L738.1,464.6 L739.1,464.4 L740.1,464.3 L741.1,464.1 L742.1,463.9 L743.1,463.8 L744.1,463.6 L745.0,463.5 L746.0,463.3 L747.0,463.1 L748.0,463.0 L748.6,462.9 M774.8,458.7 L775.5,458.6 L776.5,458.5 L777.4,458.3 L778.4,458.2 L779.4,458.0 L780.4,457.9 L781.4,457.7 L782.3,457.6 L783.3,457.4 L784.3,457.3 L785.3,457.1 L786.2,457.0 L787.2,456.8 L788.2,456.7 L789.2,456.5 L790.1,456.4 L791.1,456.2 L792.1,456.1 L793.1,455.9 L793.8,455.8" class="sa"/><path d="M200.0,917.0 L200.0,917.0 L200.0,916.0 L200.0,915.0 M200.1,901.7 L200.1,900.9 L200.1,899.9 L200.1,898.9 L200.1,897.9 L200.1,896.9 L200.2,895.9 L200.2,894.9 L200.2,893.9 L200.2,892.9 L200.2,891.9 L200.2,890.9 L200.2,889.9 L200.3,889.0 M200.5,875.7 L200.5,874.9 L200.5,873.9 L200.6,872.9 L200.6,871.9 L200.6,870.9 L200.6,869.9 L200.7,869.0 L200.7,868.0 L200.7,867.0 L200.7,866.0 L200.8,865.0 L200.8,864.0 L200.8,863.0 M201.2,849.7 L201.2,849.1 L201.3,848.1 L201.3,847.1 L201.3,846.1 L201.4,845.1 L201.4,844.1 L201.4,843.1 L201.5,842.1 L201.5,841.1 L201.5,840.1 L201.6,839.1 L201.6,838.1 L201.6,837.1 L201.6,837.0 M202.2,823.7 L202.2,823.1 L202.2,822.1 L202.3,821.1 L202.3,820.1 L202.4,819.1 L202.4,818.1 L202.5,817.1 L202.5,816.1 L202.6,815.1 L202.6,814.1 L202.7,813.1 L202.7,812.1 L202.7,811.1 L202.8,811.0 M203.4,797.7 L203.5,797.0 L203.5,796.0 L203.6,795.0 L203.6,794.0 L203.7,793.0 L203.7,792.0 L203.8,790.9 L203.8,789.9 L203.9,788.9 L203.9,787.9 L204.0,786.9 L204.1,785.9 L204.1,785.0 M204.9,771.8 L204.9,771.6 L205.0,770.6 L205.0,769.5 L205.1,768.5 L205.2,767.5 L205.3,766.5 L205.4,765.5 L205.4,764.4 L205.5,763.4 L205.6,762.4 L205.7,761.4 L205.8,760.4 L205.9,759.4 L206.0,759.1 M208.0,746.0 L208.1,745.5 L208.3,744.5 L208.5,743.5 L208.8,742.6 L209.0,741.6 L209.2,740.6 L209.5,739.7 L209.8,738.7 L210.0,737.8 L210.3,736.9 L210.6,735.9 L210.9,735.0 L211.2,734.1 L211.3,733.7 M216.4,721.4 L216.4,721.4 L216.9,720.5 L217.3,719.7 L217.7,718.8 L218.2,717.9 L218.6,717.0 L219.1,716.2 L219.5,715.3 L220.0,714.4 L220.5,713.6 L221.0,712.7 L221.4,711.9 L221.9,711.0 L222.4,710.2 M229.3,698.8 L229.6,698.4 L230.1,697.5 L230.7,696.7 L231.2,695.9 L231.8,695.0 L232.3,694.2 L232.8,693.4 L233.4,692.5 L233.9,691.7 L234.5,690.9 L235.0,690.1 L235.6,689.2 L236.2,688.4 L236.3,688.2 M243.9,677.3 L244.2,677.0 L244.8,676.2 L245.4,675.4 L246.0,674.6 L246.5,673.8 L247.1,673.0 L247.7,672.2 L248.3,671.4 L248.9,670.6 L249.5,669.8 L250.2,669.0 L250.8,668.2 L251.4,667.4 L251.5,667.2 M259.8,656.7 L260.1,656.4 L260.8,655.6 L261.4,654.8 L262.0,654.0 L262.7,653.3 L263.3,652.5 L264.0,651.7 L264.6,651.0 L265.3,650.2 L265.9,649.4 L266.6,648.7 L267.2,647.9 L267.9,647.1 L268.0,647.0 M276.9,637.1 L277.3,636.6 L278.0,635.9 L278.7,635.1 L279.4,634.4 L280.0,633.6 L280.7,632.9 L281.4,632.2 L282.1,631.4 L282.8,630.7 L283.5,630.0 L284.2,629.2 L284.9,628.5 L285.6,627.9 M295.0,618.4 L295.6,617.8 L296.3,617.1 L297.1,616.4 L297.8,615.7 L298.5,615.0 L299.3,614.3 L300.0,613.6 L300.7,612.9 L301.5,612.2 L302.2,611.5 L302.9,610.8 L303.7,610.1 L304.2,609.7 M314.1,600.8 L314.2,600.7 L314.9,600.0 L315.7,599.4 L316.5,598.7 L317.2,598.0 L318.0,597.4 L318.8,596.7 L319.5,596.1 L320.3,595.4 L321.1,594.8 L321.8,594.1 L322.6,593.5 L323.4,592.8 L323.7,592.5 M334.1,584.2 L334.4,584.0 L335.2,583.4 L336.0,582.8 L336.8,582.2 L337.5,581.5 L338.3,580.9 L339.1,580.3 L339.9,579.7 L340.7,579.1 L341.5,578.5 L342.3,577.9 L343.2,577.3 L344.0,576.7 L344.2,576.5 M355.0,568.8 L355.3,568.6 L356.2,568.0 L357.0,567.4 L357.8,566.9 L358.6,566.3 L359.5,565.7 L360.3,565.2 L361.1,564.6 L361.9,564.1 L362.8,563.5 L363.6,563.0 L364.4,562.4 L365.3,561.9 L365.6,561.7 M377.5,554.0 L377.9,553.8 L378.7,553.3 L379.6,552.8 L380.4,552.3 L381.3,551.7 L382.1,551.2 L383.0,550.7 L383.8,550.2 L384.7,549.7 L385.5,549.2 L386.4,548.7 L387.2,548.2 L388.1,547.7 L388.4,547.5 M399.0,541.4 L399.3,541.3 L400.2,540.8 L401.1,540.3 L401.9,539.8 L402.8,539.3 L403.7,538.9 L404.6,538.4 L405.4,537.9 L406.3,537.5 L407.2,537.0 L408.1,536.5 L409.0,536.1 L409.8,535.6 L410.2,535.4 M422.8,529.0 L423.1,528.8 L424.0,528.4 L424.9,528.0 L425.8,527.5 L426.7,527.1 L427.6,526.6 L428.5,526.2 L429.4,525.8 L430.3,525.4 L431.2,524.9 L432.1,524.5 L433.0,524.1 L433.9,523.7 L434.2,523.5 M446.3,518.0 L446.6,517.9 L447.5,517.5 L448.4,517.1 L449.3,516.7 L450.2,516.3 L451.2,515.9 L452.1,515.5 L453.0,515.1 L453.9,514.7 L454.8,514.3 L455.7,513.9 L456.7,513.5 L457.6,513.2 L457.9,513.0 M471.1,507.7 L471.5,507.5 L472.4,507.2 L473.3,506.8 L474.2,506.4 L475.2,506.1 L476.1,505.7 L477.0,505.3 L478.0,505.0 L478.9,504.6 L479.8,504.3 L480.8,503.9 L481.7,503.6 L482.6,503.2 L483.0,503.1 M494.5,498.9 L494.9,498.8 L495.8,498.4 L496.8,498.1 L497.7,497.8 L498.6,497.4 L499.6,497.1 L500.5,496.8 L501.5,496.5 L502.4,496.1 L503.4,495.8 L504.3,495.5 L505.3,495.2 L506.2,494.8 L506.5,494.7 M519.2,490.6 L519.6,490.5 L520.5,490.2 L521.5,489.9 L522.4,489.6 L523.4,489.3 L524.3,489.0 L525.3,488.7 L526.3,488.4 L527.2,488.1 L528.2,487.8 L529.1,487.5 L530.1,487.2 L531.1,486.9 L531.4,486.8 M543.3,483.3 L543.6,483.2 L544.5,482.9 L545.5,482.6 L546.5,482.3 L547.4,482.1 L548.4,481.8 L549.4,481.5 L550.3,481.3 L551.3,481.0 L552.3,480.7 L553.3,480.4 L554.2,480.2 L555.2,479.9 L555.5,479.8 M568.5,476.3 L568.8,476.3 L569.8,476.0 L570.7,475.8 L571.7,475.5 L572.7,475.3 L573.7,475.0 L574.6,474.8 L575.6,474.5 L576.6,474.3 L577.6,474.0 L578.5,473.8 L579.5,473.5 L580.5,473.3 L580.8,473.2 M594.9,469.8 L595.2,469.7 L596.1,469.5 L597.1,469.3 L598.1,469.1 L599.1,468.8 L600.1,468.6 L601.0,468.4 L602.0,468.2 L603.0,467.9 L604.0,467.7 L605.0,467.5 L606.0,467.3 L606.9,467.0 L607.2,467.0 M619.4,464.3 L619.7,464.2 L620.7,464.0 L621.7,463.8 L622.7,463.6 L623.6,463.4 L624.6,463.2 L625.6,463.0 L626.6,462.8 L627.6,462.6 L628.6,462.4 L629.5,462.2 L630.5,461.9 L631.5,461.7 L631.8,461.7 M645.9,458.8 L646.3,458.8 L647.3,458.6 L648.2,458.4 L649.2,458.2 L650.2,458.0 L651.2,457.8 L652.2,457.6 L653.2,457.4 L654.1,457.2 L655.1,457.1 L656.1,456.9 L657.1,456.7 L658.1,456.5 L658.4,456.4 M670.5,454.2 L670.9,454.1 L671.9,453.9 L672.8,453.8 L673.8,453.6 L674.8,453.4 L675.8,453.2 L676.8,453.0 L677.8,452.9 L678.7,452.7 L679.7,452.5 L680.7,452.3 L681.7,452.2 L682.7,452.0 L683.0,451.9 M696.0,449.7 L696.4,449.6 L697.4,449.4 L698.4,449.3 L699.3,449.1 L700.3,448.9 L701.3,448.8 L702.3,448.6 L703.3,448.5 L704.2,448.3 L705.2,448.1 L706.2,448.0 L707.2,447.8 L708.2,447.6 L708.5,447.6" class="sa"/><path d="M702.0,58.0 L703.1,59.7 L704.2,61.4 L705.3,63.0 L706.4,64.7 L707.4,66.4 L708.5,68.1 L709.6,69.8 L710.7,71.5 L711.7,73.2 L712.8,74.9 L713.9,76.6 L714.9,78.3 L716.0,80.0 L717.1,81.7 L718.1,83.4 L719.2,85.1 L720.2,86.8 L721.3,88.5 L722.3,90.2 L723.4,91.9 L724.4,93.6 L725.4,95.4 L726.5,97.1 L727.5,98.8 L728.5,100.5 L729.6,102.2 L730.6,104.0 L731.6,105.7 L732.6,107.4 L733.7,109.1 L734.7,110.9 L735.7,112.6 L736.7,114.3 L737.7,116.0 L738.7,117.8 L739.7,119.5 L740.7,121.2 L741.7,123.0 L742.7,124.7 L743.7,126.5 L744.7,128.2 L745.7,129.9 L746.7,131.7 L747.7,133.4 L748.7,135.2 L749.6,136.9 L750.6,138.7 L751.6,140.4 L752.6,142.2 L753.5,143.9 L754.5,145.7 L755.5,147.4 L756.4,149.2 L757.4,151.0 L758.4,152.7 L759.3,154.5 L760.3,156.2 L761.2,158.0 L762.2,159.8 L763.1,161.5 L764.1,163.3 L765.0,165.1 L765.9,166.8 L766.9,168.6 L767.8,170.4 L768.8,172.2 L769.7,173.9 L770.6,175.7 L771.5,177.5 L772.5,179.3 L773.4,181.0 L774.3,182.8 L775.2,184.6 L776.1,186.4 L777.1,188.2 L778.0,190.0 L778.9,191.7 L779.8,193.5 L780.7,195.3 L781.6,197.1 L782.5,198.9 L783.4,200.7 L784.3,202.5 L785.2,204.3 L786.1,206.1 L787.0,207.9 L787.9,209.7 L788.7,211.5 L789.6,213.3 L790.5,215.1 L791.4,216.9 L792.3,218.7 L793.1,220.5 L794.0,222.3 L794.9,224.1 L795.7,225.9 L796.6,227.7 L797.5,229.5 L798.3,231.3 L799.2,233.1 L800.1,234.9 L800.9,236.8 L801.8,238.6 L802.6,240.4 L803.5,242.2 L804.3,244.0 L805.2,245.8 L806.0,247.7 L806.8,249.5 L807.7,251.3 L808.5,253.1 L809.4,254.9 L810.2,256.8 L811.0,258.6 L811.9,260.4 L812.7,262.3 L813.5,264.1 L814.3,265.9 L815.2,267.7 L816.0,269.6 L816.8,271.4 L817.6,273.2 L818.4,275.1 L819.2,276.9 L820.0,278.7 L820.8,280.6 L821.7,282.4 L822.5,284.2 L823.3,286.1 L824.1,287.9 L824.9,289.8 L825.7,291.6 L826.4,293.5 L827.2,295.3 L828.0,297.1 L828.8,299.0 L829.6,300.8 L830.4,302.7 L831.2,304.5 L832.0,306.4 L832.7,308.2 L833.5,310.1 L834.3,311.9 L835.1,313.8 L835.8,315.6 L836.6,317.5 L837.4,319.3 L838.1,321.2 L838.9,323.0 L839.7,324.9 L840.4,326.8 L841.2,328.6 L841.9,330.5 L842.7,332.3 L843.4,334.2 L844.2,336.1 L844.9,337.9 L845.7,339.8 L846.4,341.6 L847.2,343.5 L847.9,345.4 L848.7,347.2 L849.4,349.1 L850.1,351.0 L850.9,352.8 L851.6,354.7 L852.3,356.6 L853.1,358.4 L853.8,360.3 L854.5,362.2 L855.3,364.0 L856.0,365.9 L856.7,367.8 L857.4,369.7 L858.1,371.5 L858.9,373.4 L859.6,375.3 L860.3,377.2 L861.0,379.0 L861.7,380.9 L862.4,382.8 L863.1,384.7 L863.8,386.5 L864.5,388.4 L865.2,390.3 L865.9,392.2 L866.6,394.1 L867.3,395.9 L868.0,397.8 L868.7,399.7 L869.4,401.6 L870.1,403.5 L870.8,405.4 L871.5,407.2 L872.2,409.1 L872.9,411.0 L873.5,412.9 L874.2,414.8 L874.9,416.7 L875.6,418.6 L876.3,420.5 L876.9,422.3 L877.6,424.2 L878.3,426.1 L879.0,428.0 L879.6,429.9 L880.3,431.8 L881.0,433.7 L881.6,435.6 L882.3,437.5 L883.0,439.4 L883.6,441.2 L884.3,443.1 L884.9,445.0 L885.6,446.9 L886.2,448.8 L886.9,450.7 L887.5,452.6 L888.2,454.5 L888.8,456.4 L889.5,458.3 L890.1,460.2 L890.8,462.1 L891.4,464.0 L892.1,465.9 L892.7,467.8 L893.3,469.7 L894.0,471.6 L894.6,473.5 L895.3,475.4 L895.9,477.3 L896.5,479.2 L897.2,481.1 L897.8,483.0 L898.4,484.9 L899.0,486.8 L899.7,488.7 L900.3,490.6 L900.9,492.5 L901.5,494.4 L902.1,496.3 L902.8,498.2 L903.4,500.1 L904.0,502.0" class="sa"/><path d="M675.2,68.3 L675.5,68.8 L675.9,69.7 L676.3,70.7 L676.7,71.6 L677.1,72.5 L677.6,73.4 L678.0,74.3 L678.4,75.2 L678.8,76.1 L679.2,77.0 L679.6,77.9 L680.1,78.9 L680.5,79.8 L680.9,80.7 L681.3,81.6 L681.7,82.5 L682.1,83.4 L682.5,84.3 L683.0,85.3 L683.2,85.8 M694.1,110.4 L694.3,110.9 L694.7,111.9 L695.1,112.8 L695.5,113.7 L695.9,114.6 L696.3,115.5 L696.7,116.5 L697.1,117.4 L697.5,118.3 L697.9,119.2 L698.3,120.1 L698.7,121.1 L699.1,122.0 L699.5,122.9 L699.9,123.8 L700.3,124.7 L700.7,125.7 L701.1,126.6 L701.5,127.5 L701.7,128.0 M712.1,152.9 L712.3,153.4 L712.7,154.4 L713.1,155.3 L713.4,156.2 L713.8,157.2 L714.2,158.1 L714.6,159.0 L715.0,159.9 L715.3,160.9 L715.7,161.8 L716.1,162.7 L716.5,163.7 L716.8,164.6 L717.2,165.5 L717.6,166.5 L718.0,167.4 L718.3,168.3 L718.7,169.2 L719.1,170.2 L719.3,170.7 M729.4,196.7 L729.6,197.3 L730.0,198.2 L730.4,199.2 L730.7,200.1 L731.1,201.0 L731.4,202.0 L731.8,202.9 L732.1,203.8 L732.5,204.8 L732.8,205.7 L733.2,206.7 L733.5,207.6 L733.9,208.5 L734.2,209.5 L734.6,210.4 L734.9,211.4 L735.3,212.3 L735.6,213.2 L736.0,214.2 L736.2,214.7 M745.3,240.1 L745.5,240.6 L745.9,241.5 L746.2,242.5 L746.5,243.4 L746.8,244.4 L747.2,245.3 L747.5,246.3 L747.8,247.2 L748.2,248.2 L748.5,249.1 L748.8,250.1 L749.1,251.0 L749.5,252.0 L749.8,252.9 L750.1,253.9 L750.4,254.8 L750.8,255.8 L751.1,256.7 L751.4,257.7 L751.6,258.2 M760.0,283.8 L760.2,284.3 L760.5,285.3 L760.8,286.2 L761.1,287.2 L761.4,288.1 L761.7,289.1 L762.0,290.0 L762.3,291.0 L762.6,292.0 L762.9,292.9 L763.2,293.9 L763.5,294.8 L763.8,295.8 L764.1,296.7 L764.4,297.7 L764.7,298.7 L765.0,299.6 L765.3,300.6 L765.6,301.5 L765.8,302.1 M773.5,327.9 L773.6,328.4 L773.9,329.4 L774.2,330.4 L774.4,331.3 L774.7,332.3 L775.0,333.3 L775.3,334.2 L775.5,335.2 L775.8,336.1 L776.1,337.1 L776.4,338.1 L776.6,339.0 L776.9,340.0 L777.2,341.0 L777.4,341.9 L777.7,342.9 L778.0,343.9 L778.2,344.8 L778.5,345.8 L778.6,346.4 M785.5,372.4 L785.6,372.9 L785.9,373.9 L786.1,374.9 L786.4,375.9 L786.6,376.8 L786.9,377.8 L787.1,378.8 L787.4,379.8 L787.6,380.7 L787.8,381.7 L788.1,382.7 L788.3,383.7 L788.5,384.6 L788.8,385.6 L789.0,386.6 L789.3,387.6 L789.5,388.5 L789.7,389.5 L790.0,390.5 L790.1,391.0 M795.9,416.3 L796.0,416.9 L796.2,417.9 L796.4,418.8 L796.6,419.8 L796.8,420.8 L797.0,421.8 L797.3,422.8 L797.5,423.8 L797.7,424.7 L797.9,425.7 L798.1,426.7 L798.3,427.7 L798.5,428.7 L798.7,429.6 L798.9,430.6 L799.1,431.6 L799.3,432.6 L799.5,433.6 L799.7,434.6 L799.8,435.1" class="sa"/><path d="M625.4,63.4 L625.5,63.7 L625.8,64.7 L626.1,65.7 L626.4,66.6 L626.7,67.6 L627.0,68.5 L627.2,69.5 L627.5,70.5 L627.8,71.4 L628.1,72.4 L628.4,73.4 L628.7,74.3 L629.0,75.3 L629.1,75.6 M632.0,85.6 L632.1,85.9 L632.4,86.8 L632.7,87.8 L633.0,88.8 L633.3,89.7 L633.6,90.7 L633.8,91.6 L634.1,92.6 L634.4,93.6 L634.7,94.5 L635.0,95.5 L635.3,96.5 L635.6,97.4 L635.6,97.7 M639.4,110.6 L639.5,110.9 L639.8,111.9 L640.1,112.8 L640.4,113.8 L640.7,114.8 L640.9,115.7 L641.2,116.7 L641.5,117.7 L641.8,118.6 L642.1,119.6 L642.3,120.6 L642.6,121.5 L642.9,122.5 L643.0,122.8 M647.0,136.7 L647.1,137.0 L647.4,137.9 L647.7,138.9 L647.9,139.9 L648.2,140.8 L648.5,141.8 L648.8,142.8 L649.0,143.7 L649.3,144.7 L649.6,145.7 L649.9,146.6 L650.2,147.6 L650.4,148.6 L650.5,148.9 M654.2,161.8 L654.3,162.1 L654.5,163.1 L654.8,164.0 L655.1,165.0 L655.4,166.0 L655.6,166.9 L655.9,167.9 L656.2,168.9 L656.4,169.8 L656.7,170.8 L657.0,171.8 L657.3,172.7 L657.5,173.7 L657.6,174.0 M661.2,186.9 L661.3,187.3 L661.6,188.2 L661.8,189.2 L662.1,190.2 L662.4,191.1 L662.6,192.1 L662.9,193.1 L663.2,194.0 L663.4,195.0 L663.7,196.0 L664.0,196.9 L664.2,197.9 L664.5,198.9 L664.6,199.2 M668.1,212.2 L668.1,212.5 L668.4,213.4 L668.7,214.4 L668.9,215.4 L669.2,216.3 L669.4,217.3 L669.7,218.3 L670.0,219.3 L670.2,220.2 L670.5,221.2 L670.7,222.2 L671.0,223.1 L671.3,224.1 L671.3,224.4 M675.0,238.4 L675.1,238.7 L675.3,239.7 L675.6,240.6 L675.8,241.6 L676.1,242.6 L676.3,243.6 L676.6,244.5 L676.8,245.5 L677.1,246.5 L677.3,247.5 L677.6,248.4 L677.8,249.4 L678.1,250.4 L678.2,250.7 M681.4,263.7 L681.5,264.0 L681.8,265.0 L682.0,266.0 L682.2,266.9 L682.5,267.9 L682.7,268.9 L683.0,269.9 L683.2,270.8 L683.5,271.8 L683.7,272.8 L683.9,273.8 L684.2,274.7 L684.4,275.7 L684.5,276.0 M687.9,290.0 L688.0,290.4 L688.2,291.3 L688.4,292.3 L688.7,293.3 L688.9,294.3 L689.1,295.2 L689.4,296.2 L689.6,297.2 L689.8,298.2 L690.1,299.2 L690.3,300.1 L690.5,301.1 L690.7,302.1 L690.8,302.4 M693.8,315.5 L693.9,315.8 L694.1,316.8 L694.4,317.7 L694.6,318.7 L694.8,319.7 L695.0,320.7 L695.3,321.7 L695.5,322.6 L695.7,323.6 L695.9,324.6 L696.1,325.6 L696.4,326.6 L696.6,327.5 L696.6,327.9 M699.5,341.0 L699.6,341.3 L699.8,342.3 L700.0,343.2 L700.2,344.2 L700.4,345.2 L700.7,346.2 L700.9,347.2 L701.1,348.2 L701.3,349.1 L701.5,350.1 L701.7,351.1 L701.9,352.1 L702.1,353.1 L702.2,353.4 M704.9,366.5 L705.0,366.8 L705.2,367.8 L705.4,368.8 L705.6,369.8 L705.8,370.8 L706.0,371.8 L706.2,372.7 L706.4,373.7 L706.6,374.7 L706.8,375.7 L707.0,376.7 L707.2,377.7 L707.4,378.7 L707.4,379.0 M710.2,393.1 L710.2,393.4 L710.4,394.4 L710.6,395.4 L710.8,396.4 L711.0,397.4 L711.2,398.4 L711.4,399.4 L711.5,400.4 L711.7,401.3 L711.9,402.3 L712.1,403.3 L712.3,404.3 L712.5,405.3 L712.5,405.6 M714.9,418.8 L714.9,419.1 L715.1,420.1 L715.3,421.1 L715.5,422.1 L715.6,423.1 L715.8,424.1 L716.0,425.1 L716.2,426.1 L716.3,427.1 L716.5,428.1 L716.7,429.0 L716.8,430.0 L717.0,431.0 L717.1,431.3" class="sa"/></g>
<g><path d="M1305.0,739.2 L1305.3,737.2 L1305.6,735.2 L1305.9,733.2 L1306.1,731.2 L1306.4,729.2 L1306.7,727.2 L1307.0,725.2 L1307.3,723.2 L1307.6,721.2 L1307.9,719.2 L1308.2,717.2 L1308.4,715.3 L1308.7,713.3 L1309.0,711.3 L1309.3,709.3 L1309.6,707.3 L1309.9,705.3 L1310.2,703.3 L1310.5,701.3 L1310.8,699.3 L1311.1,697.3 L1311.4,695.4 L1311.7,693.4 L1312.0,691.4 L1312.3,689.4 L1312.6,687.4 L1312.9,685.4 L1313.2,683.4 L1313.5,681.5 L1313.9,679.5 L1314.2,677.5 L1314.5,675.5 L1314.8,673.5 L1315.1,671.5 L1315.4,669.6 L1315.7,667.6 L1316.0,665.6 L1316.4,663.6 L1316.7,661.6 L1317.0,659.7 L1317.3,657.7 L1317.7,655.7 L1318.0,653.7 L1318.3,651.8 L1318.6,649.8 L1319.0,647.8 L1319.3,645.8 L1319.6,643.9 L1320.0,641.9 L1320.3,639.9 L1320.6,638.0 L1321.0,636.0 L1321.3,634.0 L1321.6,632.0 L1322.0,630.1 L1322.3,628.1 L1322.7,626.1 L1323.0,624.2 L1323.4,622.2 L1323.7,620.2 L1324.1,618.3 L1324.4,616.3 L1324.8,614.3 L1325.1,612.4 L1325.5,610.4 L1325.8,608.4 L1326.2,606.5 L1326.6,604.5 L1326.9,602.5 L1327.3,600.6 L1327.7,598.6 L1328.0,596.7 L1328.4,594.7 L1328.8,592.7 L1329.1,590.8 L1329.5,588.8 L1329.9,586.9 L1330.3,584.9 L1330.7,582.9 L1331.0,581.0 L1331.4,579.0 L1331.8,577.1 L1332.2,575.1 L1332.6,573.2 L1333.0,571.2 L1333.4,569.3 L1333.8,567.3 L1334.2,565.3 L1334.6,563.4 L1335.0,561.4 L1335.4,559.5 L1335.8,557.5 L1336.2,555.6 L1336.6,553.6 L1337.0,551.7 L1337.4,549.7 L1337.8,547.8 L1338.2,545.8 L1338.6,543.9 L1339.1,541.9 L1339.5,540.0 L1339.9,538.0 L1340.3,536.1 L1340.8,534.1 L1341.2,532.2 L1341.6,530.3 L1342.1,528.3 L1342.5,526.4 L1342.9,524.4 L1343.4,522.5 L1343.8,520.5 L1344.3,518.6 L1344.7,516.6 L1345.2,514.7 L1345.6,512.8 L1346.1,510.8 L1346.5,508.9 L1347.0,506.9 L1347.4,505.0 L1347.9,503.1 L1348.4,501.1 L1348.8,499.2 L1349.3,497.2 L1349.8,495.3 L1350.3,493.4 L1350.7,491.4 L1351.2,489.5 L1351.7,487.6 L1352.2,485.6 L1352.7,483.7 L1353.2,481.8 L1353.7,479.8 L1354.2,477.9 L1354.6,476.0 L1355.1,474.0 L1355.6,472.1 L1356.2,470.2 L1356.7,468.2 L1357.2,466.3 L1357.7,464.4 L1358.2,462.4 L1358.7,460.5 L1359.2,458.6 L1359.8,456.6 L1360.3,454.7 L1360.8,452.8 L1361.3,450.8 L1361.9,448.9 L1362.4,447.0 L1362.9,445.1 L1363.5,443.1 L1364.0,441.2 L1364.6,439.3 L1365.1,437.4 L1365.7,435.4 L1366.2,433.5 L1366.8,431.6 L1367.3,429.7 L1367.9,427.7 L1368.5,425.8 L1369.0,423.9 L1369.6,422.0 L1370.2,420.0 L1370.8,418.1 L1371.3,416.2 L1371.9,414.3 L1372.5,412.3 L1373.1,410.4 L1373.7,408.5 L1374.3,406.6 L1374.9,404.7 L1375.5,402.7 L1376.1,400.8 L1376.7,398.9 L1377.3,397.0 L1377.9,395.1 L1378.5,393.1 L1379.1,391.2 L1379.8,389.3 L1380.4,387.4 L1381.0,385.5 L1381.6,383.6 L1382.3,381.6 L1382.9,379.7 L1383.6,377.8 L1384.2,375.9 L1384.8,374.0 L1385.5,372.1 L1386.1,370.2 L1386.8,368.2 L1387.5,366.3 L1388.1,364.4 L1388.8,362.5 L1389.4,360.6 L1390.1,358.7 L1390.8,356.8 L1391.5,354.9 L1392.2,352.9 L1392.8,351.0 L1393.5,349.1 L1394.2,347.2 L1394.9,345.3 L1395.6,343.4 L1396.4,341.5 L1397.1,339.6 L1397.8,337.7 L1398.5,335.8 L1399.3,333.9 L1400.0,332.1 L1400.8,330.2 L1401.5,328.3 L1402.3,326.4 L1403.1,324.6 L1403.9,322.7 L1404.7,320.9 L1405.5,319.0 L1406.3,317.2 L1407.1,315.3 L1407.9,313.5 L1408.8,311.7 L1409.6,309.9 L1410.5,308.0 L1411.4,306.2 L1412.2,304.4 L1413.1,302.7 L1414.1,300.9 L1415.0,299.1 L1415.9,297.3 L1416.9,295.6 L1417.8,293.8 L1418.8,292.1 L1419.8,290.4 L1420.8,288.6 L1421.8,286.9 L1422.8,285.2 L1423.9,283.6 L1425.0,281.9 L1426.0,280.2 L1427.1,278.6 L1428.2,276.9 L1429.4,275.3 L1430.5,273.7 L1431.7,272.1 L1432.8,270.5 L1434.0,268.9 L1435.2,267.3 L1436.5,265.8 L1437.7,264.2 L1439.0,262.7 L1440.3,261.2 L1441.6,259.7 L1442.9,258.2 L1444.2,256.7 L1445.6,255.3 L1447.0,253.8 L1448.4,252.4 L1449.8,251.0 L1451.3,249.6 L1452.7,248.2 L1454.2,246.9 L1455.7,245.5 L1457.2,244.2 L1458.8,242.9 L1460.4,241.7 L1461.9,240.4 L1463.5,239.2 L1465.2,238.0 L1466.8,236.8 L1468.4,235.6 L1470.1,234.5 L1471.8,233.4 L1473.5,232.3 L1475.2,231.3 L1476.9,230.3 L1478.6,229.3 L1480.4,228.4 L1482.2,227.5 L1483.9,226.6 L1485.7,225.8 L1487.5,225.0 L1489.3,224.2 L1491.1,223.5 L1493.0,222.8 L1494.8,222.1 L1496.6,221.5 L1498.5,221.0 L1500.3,220.5 L1502.2,220.0 L1504.1,219.6 L1506.0,219.2 L1507.8,218.8 L1509.7,218.6 L1511.6,218.3 L1513.5,218.1 L1515.4,218.0 L1517.3,217.9 L1519.2,217.9 L1521.2,217.9 L1523.1,218.0 L1525.0,218.1 L1526.9,218.3 L1528.8,218.5 L1530.7,218.7 L1532.7,219.0 L1534.6,219.4 L1536.5,219.8 L1538.4,220.2 L1540.4,220.7 L1542.3,221.2 L1544.2,221.7 L1546.2,222.3 L1548.1,222.9 L1550.0,223.6 L1551.9,224.2 L1553.9,224.9 L1555.8,225.6 L1557.7,226.4 L1559.7,227.2 L1561.6,228.0 L1563.5,228.8 L1565.4,229.6 L1567.3,230.4 L1569.3,231.3 L1571.2,232.2 L1573.1,233.1 L1575.0,234.0 L1576.9,234.9 L1578.8,235.8 L1580.7,236.7 L1582.6,237.6 L1584.5,238.5 L1586.4,239.5 L1588.3,240.4 L1590.2,241.3 L1592.0,242.3 L1593.9,243.2 L1595.8,244.1 L1597.6,245.0 L1599.5,245.9 L1601.4,246.8 L1603.2,247.7 L1605.0,248.5 L1606.9,249.4 L1608.7,250.2 L1610.6,251.1 L1612.4,251.9 L1614.2,252.7 L1616.0,253.5 L1617.8,254.3 L1619.6,255.1 L1621.4,255.9 L1623.2,256.7 L1625.0,257.5 L1626.8,258.3 L1628.6,259.1 L1630.4,259.9 L1632.2,260.7 L1634.0,261.5 L1635.8,262.3 L1637.5,263.1 L1639.3,263.9 L1641.1,264.7 L1642.9,265.5 L1644.6,266.3 L1646.4,267.1 L1648.2,267.9 L1649.9,268.7 L1651.7,269.6 L1653.4,270.4 L1655.2,271.3 L1657.0,272.2 L1658.7,273.0 L1660.5,273.9 L1662.2,274.8 L1664.0,275.7 L1665.7,276.7 L1667.5,277.6 L1669.3,278.5 L1671.0,279.5 L1672.8,280.5 L1674.5,281.4 L1676.3,282.4 L1678.0,283.4 L1679.8,284.4 L1681.6,285.4 L1683.3,286.3 L1685.1,287.3 L1686.8,288.3 L1688.6,289.3 L1690.4,290.3 L1692.1,291.3 L1693.9,292.3 L1695.7,293.3 L1697.4,294.3 L1699.2,295.3 L1701.0,296.3 L1702.8,297.3 L1704.5,298.3 L1706.3,299.3 L1708.1,300.3 L1709.9,301.2 L1711.7,302.2 L1713.5,303.2 L1715.3,304.1 L1717.0,305.0 L1718.8,306.0 L1720.6,306.9 L1722.4,307.8 L1724.3,308.7 L1726.1,309.6 L1727.9,310.4 L1729.7,311.3 L1731.5,312.1 L1733.3,313.0 L1735.2,313.8 L1737.0,314.6 L1738.8,315.4 L1740.7,316.1 L1742.5,316.9 L1744.3,317.6 L1746.2,318.3 L1748.1,319.0 L1749.9,319.7 L1751.8,320.3 L1753.6,321.0 L1755.5,321.6 L1757.4,322.2 L1759.3,322.8 L1761.1,323.4 L1763.0,324.0 L1764.9,324.6 L1766.8,325.1 L1768.7,325.6 L1770.6,326.2 L1772.5,326.7 L1774.4,327.2 L1776.3,327.7 L1778.3,328.2 L1780.2,328.7 L1782.1,329.1 L1784.0,329.6 L1786.0,330.1 L1787.9,330.5 L1789.8,331.0 L1791.8,331.4 L1793.7,331.8 L1795.7,332.3 L1797.6,332.7 L1799.6,333.1 L1801.5,333.5 L1803.5,333.9 L1805.4,334.3 L1807.4,334.7 L1809.4,335.1 L1811.4,335.5 L1813.3,335.9 L1815.3,336.3 L1817.3,336.7 L1819.3,337.1 L1821.3,337.5 L1823.2,337.9 L1825.2,338.3 L1827.2,338.7 L1829.2,339.1 L1831.2,339.5 L1833.2,339.9 L1835.2,340.3 L1837.2,340.7 L1839.2,341.1 L1841.1,341.5 L1843.1,342.0 L1845.1,342.4 L1847.1,342.8 L1849.1,343.2 L1851.1,343.6 L1853.1,344.1 L1855.1,344.5 L1857.0,344.9 L1859.0,345.4 L1861.0,345.8 L1863.0,346.3 L1864.9,346.8 L1866.9,347.2 L1868.9,347.7 L1870.8,348.2 L1872.8,348.7 L1874.8,349.2 L1876.7,349.7 L1878.7,350.2 L1880.6,350.8 L1882.6,351.3 L1884.5,351.8 L1886.4,352.4 L1888.3,353.0 L1890.3,353.5 L1892.2,354.1 L1894.1,354.7 L1896.0,355.3 L1897.9,355.9 L1899.8,356.6 L1901.7,357.2 L1903.6,357.9 L1905.5,358.5 L1907.3,359.2 L1909.2,359.9 L1911.0,360.6 L1912.9,361.4 L1914.7,362.1 L1916.6,362.8 L1918.4,363.6 L1920.2,364.4 L1922.0,365.2 L1923.8,366.0 L1925.6,366.8 L1927.4,367.7 L1929.2,368.5 L1930.9,369.4 L1932.7,370.3 L1934.4,371.2 L1936.2,372.2 L1937.9,373.1 L1939.6,374.1 L1941.3,375.1 L1943.0,376.1 L1944.7,377.1 L1946.4,378.2 L1948.0,379.2 L1949.7,380.3 L1951.3,381.4 L1953.0,382.5 L1954.6,383.7 L1956.2,384.9 L1957.8,386.1 L1959.4,387.3 L1960.9,388.5 L1962.5,389.8 L1964.0,391.0 L1965.6,392.3 L1967.1,393.7 L1968.6,395.0 L1970.1,396.4 L1971.5,397.8 L1973.0,399.1 L1974.5,400.6 L1975.9,402.0 L1977.3,403.4 L1978.8,404.9 L1980.2,406.4 L1981.6,407.8 L1982.9,409.3 L1984.3,410.9 L1985.7,412.4 L1987.0,413.9 L1988.3,415.4 L1989.7,417.0 L1991.0,418.6 L1992.3,420.1 L1993.5,421.7 L1994.8,423.3 L1996.1,424.9 L1997.3,426.5 L1998.6,428.1 L1999.8,429.7 L2001.0,431.3 L2002.2,432.9 L2003.4,434.5 L2004.6,436.1 L2005.7,437.8 L2006.9,439.4 L2008.0,441.1 L2009.2,442.7 L2010.3,444.4 L2011.4,446.0 L2012.6,447.7 L2013.7,449.4 L2014.8,451.0 L2015.8,452.7 L2016.9,454.4 L2018.0,456.1 L2019.0,457.8 L2020.1,459.5 L2021.1,461.2 L2022.2,462.9 L2023.2,464.6 L2024.2,466.3 L2025.3,468.0 L2026.3,469.7 L2027.3,471.4 L2028.3,473.1 L2029.3,474.9 L2030.3,476.6 L2031.2,478.3 L2032.2,480.1 L2033.2,481.8 L2034.2,483.6 L2035.1,485.3 L2036.1,487.0 L2037.0,488.8 L2038.0,490.5 L2038.9,492.3 L2039.9,494.1 L2040.8,495.8 L2041.8,497.6 L2042.7,499.3 L2043.6,501.1 L2044.5,502.9 L2045.5,504.6 L2046.4,506.4" class="sa"/><path d="M1311.7,338.2 L1311.9,337.3 L1312.1,336.3 L1312.3,335.4 L1312.5,334.4 L1312.7,333.4 L1312.9,332.5 L1313.0,331.5 L1313.2,330.6 L1313.4,329.6 L1313.6,328.6 L1313.8,327.7 L1314.0,326.7 L1314.2,325.7 L1314.3,324.7 L1314.5,323.8 L1314.7,322.8 L1314.9,321.8 L1315.1,320.8 L1315.3,319.8 L1315.5,318.9 L1315.6,317.9 L1315.8,316.9 L1316.0,315.9 L1316.2,314.9 L1316.4,313.9 L1316.6,312.9 L1316.8,312.0 L1317.0,311.0 L1317.2,310.0 M1320.7,293.0 L1320.9,292.0 L1321.2,291.0 L1321.4,290.0 L1321.6,289.0 L1321.9,288.1 L1322.1,287.1 L1322.3,286.1 L1322.6,285.1 L1322.8,284.1 L1323.1,283.1 L1323.3,282.1 L1323.6,281.1 L1323.8,280.1 L1324.1,279.1 L1324.3,278.1 L1324.6,277.1 L1324.8,276.1 L1325.1,275.1 L1325.4,274.1 L1325.6,273.2 L1325.9,272.2 L1326.2,271.2 L1326.5,270.2 L1326.8,269.2 L1327.1,268.2 L1327.3,267.3 L1327.6,266.3 L1327.9,265.3 L1328.2,264.3 L1328.5,263.3 L1328.9,262.4 L1329.2,261.4 L1329.5,260.4 L1329.8,259.5 L1330.1,258.5 L1330.5,257.5 L1330.8,256.6 M1335.9,243.3 L1336.3,242.4 L1336.7,241.5 L1337.1,240.5 L1337.5,239.6 L1337.9,238.7 L1338.3,237.8 L1338.7,236.9 L1339.2,236.0 L1339.6,235.0 L1340.1,234.1 L1340.5,233.2 L1341.0,232.3 L1341.4,231.4 L1341.9,230.6 L1342.4,229.7 L1342.8,228.8 M1350.6,215.9 L1351.2,215.1 L1351.8,214.3 L1352.4,213.5 L1353.0,212.7 L1353.6,211.9 L1354.2,211.1 L1354.8,210.3 L1355.4,209.5 L1356.0,208.7 L1356.6,207.9 M1365.5,198.3 L1366.2,197.7 L1366.9,197.0 L1367.7,196.4 L1368.4,195.7 L1369.2,195.1 L1369.9,194.5 L1370.7,193.9 L1371.5,193.3 L1372.3,192.7 L1373.1,192.1 L1373.9,191.6 L1374.7,191.1 L1375.5,190.5 L1376.3,190.0 L1377.2,189.5 M1392.4,183.8 L1393.3,183.6 L1394.3,183.5 L1395.3,183.4 L1396.3,183.3 L1397.2,183.2 L1398.2,183.1 L1399.2,183.1 L1400.2,183.1 L1401.2,183.1 L1402.3,183.1 L1403.3,183.2 L1404.3,183.3 L1405.3,183.4 L1406.4,183.6 L1407.4,183.7 L1408.5,183.9 L1409.5,184.2 L1410.6,184.4 L1411.6,184.7 L1412.7,185.0 L1413.8,185.3 L1414.8,185.7" class="sa" style="stroke-width:6.4px"/><path d="M1400.0,183.5 L1400.0,183.5 L1400.9,183.8 L1401.8,184.2 L1402.8,184.5 L1403.7,184.9 L1404.6,185.3 L1405.5,185.6 L1406.4,186.0 L1407.3,186.4 L1408.2,186.8 L1409.1,187.1 L1410.0,187.5 L1410.9,187.9 L1411.8,188.3 L1411.9,188.3 M1439.1,201.9 L1439.1,202.0 L1440.0,202.5 L1440.8,202.9 L1441.7,203.4 L1442.6,203.9 L1443.4,204.4 L1444.3,204.9 L1445.1,205.4 L1446.0,205.9 L1446.8,206.4 L1447.7,206.9 L1448.5,207.4 L1449.4,207.9 L1450.3,208.4 L1451.1,209.0 L1452.0,209.5 L1452.8,210.0 L1453.7,210.5 L1454.5,211.0 L1455.3,211.5 L1456.0,212.0 M1481.5,228.6 L1482.1,229.0 L1483.0,229.6 L1483.8,230.2 L1484.6,230.7 L1485.5,231.3 L1486.3,231.9 L1487.1,232.4 L1488.0,233.0 L1488.8,233.6 L1489.6,234.2 L1490.4,234.7 L1491.3,235.3 L1492.1,235.9 L1492.9,236.5 L1493.7,237.0 L1494.6,237.6 L1495.4,238.2 L1496.2,238.8 L1497.1,239.3 L1497.7,239.8 M1518.7,254.5 L1519.4,254.9 L1520.2,255.5 L1521.0,256.1 L1521.9,256.6 L1522.7,257.2 L1523.5,257.8 L1524.4,258.3 L1525.2,258.9 L1526.0,259.5 L1526.9,260.0 L1527.7,260.6 L1528.5,261.2 L1529.4,261.8 L1530.2,262.3 L1531.0,262.9 L1531.9,263.4 L1532.7,264.0 L1533.5,264.6 L1534.4,265.1 L1535.0,265.6 M1558.0,280.7 L1558.7,281.2 L1559.5,281.7 L1560.4,282.3 L1561.2,282.8 L1562.1,283.4 L1562.9,283.9 L1563.7,284.5 L1564.6,285.0 L1565.4,285.5 L1566.3,286.1 L1567.1,286.6 L1568.0,287.2 L1568.8,287.7 L1569.6,288.3 L1570.5,288.8 L1571.3,289.4 L1572.2,289.9 L1573.0,290.4 L1573.9,291.0 L1574.6,291.4 M1599.2,307.4 L1599.9,307.8 L1600.8,308.4 L1601.6,308.9 L1602.4,309.5 L1603.3,310.0 L1604.1,310.6 L1605.0,311.1 L1605.8,311.7 L1606.6,312.2 L1607.5,312.8 L1608.3,313.3 L1609.1,313.9 L1610.0,314.4 L1610.8,315.0 L1611.6,315.5 L1612.5,316.1 L1613.3,316.6 L1614.1,317.2 L1615.0,317.7 L1615.7,318.2 M1639.0,334.1 L1639.7,334.6 L1640.5,335.2 L1641.3,335.8 L1642.2,336.3 L1643.0,336.9 L1643.8,337.5 L1644.6,338.1 L1645.4,338.6 L1646.2,339.2 L1647.0,339.8 L1647.8,340.4 L1648.6,341.0 L1649.5,341.6 L1650.3,342.2 L1651.1,342.7 L1651.9,343.3 L1652.7,343.9 L1653.5,344.5 L1654.3,345.1 L1655.0,345.6 M1672.7,359.2 L1673.3,359.7 L1674.1,360.3 L1674.9,361.0 L1675.7,361.6 L1676.5,362.2 L1677.2,362.8 L1678.0,363.5 L1678.8,364.1 L1679.6,364.7 L1680.3,365.4 L1681.1,366.0 L1681.9,366.7 L1682.6,367.3 L1683.4,367.9 L1684.2,368.6 L1685.0,369.2 L1685.7,369.9 L1686.5,370.5 L1687.3,371.2 L1687.9,371.7 M1716.9,397.2 L1717.5,397.7 L1718.3,398.4 L1719.0,399.0 L1719.8,399.7 L1720.5,400.4 L1721.3,401.0 L1722.0,401.7 L1722.8,402.4 L1723.5,403.0 L1724.3,403.7 L1725.1,404.4 L1725.8,405.0 L1726.6,405.7 L1727.3,406.3 L1728.1,407.0 L1728.8,407.7 L1729.6,408.3 L1730.4,409.0 L1731.1,409.6 L1731.7,410.2 M1750.6,425.7 L1751.2,426.2 L1752.0,426.8 L1752.8,427.4 L1753.6,428.0 L1754.4,428.6 L1755.2,429.2 L1756.0,429.8 L1756.8,430.4 L1757.6,431.0 L1758.4,431.6 L1759.2,432.2 L1760.0,432.8 L1760.8,433.4 L1761.6,434.0 L1762.4,434.6 L1763.2,435.2 L1764.1,435.7 L1764.9,436.3 L1765.7,436.9 L1766.4,437.4 M1790.4,452.3 L1791.1,452.7 L1792.0,453.2 L1792.9,453.6 L1793.8,454.1 L1794.7,454.6 L1795.6,455.0 L1796.5,455.5 L1797.4,455.9 L1798.3,456.4 L1799.2,456.8 L1800.1,457.2 L1801.0,457.7 L1801.9,458.1 L1802.8,458.5 L1803.7,458.9 L1804.7,459.4 L1805.6,459.8 L1806.5,460.2 L1807.4,460.6 L1808.1,460.9 M1834.1,471.5 L1834.8,471.7 L1835.7,472.1 L1836.6,472.5 L1837.6,472.8 L1838.5,473.2 L1839.5,473.6 L1840.4,473.9 L1841.4,474.3 L1842.3,474.7 L1843.3,475.1 L1844.2,475.4 L1845.2,475.8 L1846.1,476.2 L1847.0,476.6 L1848.0,477.0 L1848.9,477.3 L1849.9,477.7 L1850.8,478.1 L1851.7,478.5 L1852.4,478.8 M1877.9,491.0 L1878.7,491.5 L1879.6,492.0 L1880.4,492.4 L1881.3,493.0 L1882.1,493.5 L1883.0,494.0 L1883.8,494.5 L1884.6,495.0 L1885.5,495.5 L1886.3,496.1 L1887.1,496.6 L1887.9,497.2 L1888.7,497.7 L1889.5,498.3 L1890.3,498.8 L1891.1,499.4 L1891.9,500.0 L1892.7,500.6 L1893.5,501.2 L1894.3,501.8 L1894.3,501.8 M1914.8,521.4 L1915.4,522.2 L1916.0,522.9 L1916.6,523.7 L1917.2,524.5 L1917.8,525.3 L1918.4,526.1 L1919.0,526.9 L1919.6,527.7 L1920.2,528.5 L1920.7,529.3 L1921.3,530.1 L1921.9,530.9 L1922.4,531.7 L1923.0,532.6 L1923.5,533.4 L1924.0,534.2 L1924.6,535.1 L1925.1,535.9 L1925.6,536.8 L1926.1,537.6 M1937.4,563.0 L1937.4,563.0" class="sa"/><path d="M1403.3,184.5 L1403.8,184.8 L1404.8,185.1 L1405.7,185.4 L1406.7,185.8 L1407.6,186.2 L1408.5,186.6 L1409.4,186.9 L1410.3,187.3 L1411.2,187.7 L1412.1,188.1 L1413.0,188.6 L1413.9,189.0 L1414.8,189.4 L1415.4,189.7 M1425.3,195.5 L1425.7,195.8 L1426.5,196.3 L1427.4,196.8 L1428.2,197.4 L1428.9,197.9 L1429.7,198.5 L1430.5,199.1 L1431.3,199.6 L1432.1,200.2 L1432.9,200.8 L1433.6,201.4 L1434.4,202.0 L1435.1,202.6 L1435.9,203.2 L1435.9,203.2 M1444.5,210.8 L1444.7,210.9 L1445.4,211.6 L1446.1,212.3 L1446.8,213.0 L1447.5,213.7 L1448.2,214.4 L1448.9,215.1 L1449.6,215.8 L1450.3,216.5 L1450.9,217.2 L1451.6,217.9 L1452.3,218.6 L1453.0,219.3 L1453.6,220.0 L1453.8,220.2 M1461.3,228.8 L1461.5,229.0 L1462.1,229.7 L1462.8,230.5 L1463.4,231.2 L1464.1,232.0 L1464.7,232.8 L1465.3,233.6 L1465.9,234.3 L1466.6,235.1 L1467.2,235.9 L1467.8,236.7 L1468.4,237.4 L1469.1,238.2 L1469.7,239.0 L1469.7,239.0 M1476.6,248.1 L1477.0,248.5 L1477.6,249.3 L1478.2,250.1 L1478.8,251.0 L1479.4,251.8 L1480.0,252.6 L1480.6,253.4 L1481.2,254.2 L1481.8,255.0 L1482.3,255.8 L1482.9,256.6 L1483.5,257.5 L1484.1,258.3 L1484.4,258.7 M1493.1,271.1 L1493.4,271.5 L1494.0,272.3 L1494.6,273.2 L1495.1,274.0 L1495.7,274.8 L1496.3,275.7 L1496.8,276.5 L1497.4,277.3 L1498.0,278.2 L1498.6,279.0 L1499.1,279.9 L1499.7,280.7 L1500.3,281.5 L1500.6,282.0 M1508.0,292.9 L1508.3,293.3 L1508.9,294.1 L1509.4,295.0 L1510.0,295.8 L1510.6,296.6 L1511.1,297.5 L1511.7,298.3 L1512.3,299.2 L1512.9,300.0 L1513.4,300.8 L1514.0,301.7 L1514.6,302.5 L1515.2,303.4 L1515.5,303.8 M1524.2,316.3 L1524.5,316.7 L1525.1,317.5 L1525.6,318.3 L1526.2,319.2 L1526.8,320.0 L1527.4,320.8 L1528.0,321.6 L1528.6,322.5 L1529.2,323.3 L1529.8,324.1 L1530.4,324.9 L1531.0,325.7 L1531.6,326.6 L1531.9,327.0 M1540.9,339.1 L1541.2,339.5 L1541.8,340.3 L1542.5,341.1 L1543.1,341.9 L1543.7,342.7 L1544.3,343.5 L1544.9,344.3 L1545.5,345.1 L1546.2,345.9 L1546.8,346.7 L1547.4,347.5 L1548.0,348.3 L1548.7,349.1 L1549.0,349.5 M1558.5,361.0 L1558.9,361.4 L1559.5,362.2 L1560.2,362.9 L1560.8,363.7 L1561.5,364.4 L1562.1,365.2 L1562.8,365.9 L1563.5,366.7 L1564.1,367.4 L1564.8,368.2 L1565.4,368.9 L1566.1,369.7 L1566.8,370.4 L1567.2,370.9 M1576.6,380.7 L1577.0,381.2 L1577.7,381.9 L1578.4,382.6 L1579.1,383.3 L1579.8,384.0 L1580.5,384.7 L1581.2,385.4 L1581.9,386.1 L1582.6,386.8 L1583.4,387.5 L1584.1,388.2 L1584.8,388.8 L1585.5,389.5 L1586.0,390.0 M1596.0,398.9 L1596.6,399.4 L1597.3,400.0 L1598.1,400.6 L1598.8,401.3 L1599.6,401.9 L1600.4,402.5 L1601.1,403.1 L1601.9,403.8 L1602.7,404.4 L1603.4,405.0 L1604.2,405.6 L1605.0,406.2 L1605.8,406.8 L1606.3,407.2 M1617.8,415.5 L1618.6,416.0 L1619.4,416.6 L1620.3,417.1 L1621.1,417.7 L1621.9,418.2 L1622.8,418.8 L1623.6,419.3 L1624.4,419.8 L1625.3,420.3 L1626.1,420.9 L1627.0,421.4 L1627.8,421.9 L1628.7,422.4 L1628.9,422.6 M1641.2,429.6 L1641.7,429.8 L1642.6,430.3 L1643.5,430.8 L1644.4,431.3 L1645.3,431.7 L1646.2,432.2 L1647.1,432.7 L1648.0,433.1 L1648.8,433.6 L1649.7,434.0 L1650.6,434.5 L1651.5,434.9 L1652.4,435.4 L1652.9,435.6 M1664.7,441.4 L1665.2,441.6 L1666.1,442.0 L1667.0,442.5 L1668.0,442.9 L1668.9,443.3 L1669.8,443.8 L1670.7,444.2 L1671.6,444.6 L1672.6,445.0 L1673.5,445.5 L1674.4,445.9 L1675.3,446.3 L1676.2,446.7 L1676.7,446.9 M1689.7,452.9 L1690.1,453.1 L1691.0,453.5 L1692.0,453.9 L1692.9,454.3 L1693.8,454.7 L1694.7,455.2 L1695.7,455.6 L1696.6,456.0 L1697.5,456.4 L1698.4,456.9 L1699.4,457.3 L1700.3,457.7 L1701.2,458.1 L1701.7,458.4 M1714.4,464.4 L1714.9,464.6 L1715.8,465.1 L1716.7,465.5 L1717.6,466.0 L1718.5,466.4 L1719.4,466.8 L1720.3,467.3 L1721.2,467.7 L1722.1,468.2 L1723.0,468.6 L1723.9,469.1 L1724.8,469.6 L1725.6,470.0 L1726.2,470.3 M1738.2,476.8 L1738.7,477.1 L1739.6,477.6 L1740.5,478.1 L1741.3,478.6 L1742.2,479.1 L1743.0,479.6 L1743.8,480.1 L1744.7,480.6 L1745.5,481.2 L1746.4,481.7 L1747.2,482.2 L1748.0,482.7 L1748.9,483.2 L1749.5,483.6 M1761.9,492.2 L1762.5,492.6 L1763.3,493.2 L1764.1,493.8 L1764.8,494.4 L1765.6,495.0 L1766.4,495.6 L1767.1,496.2 L1767.9,496.8 L1768.6,497.4 L1769.4,498.0 L1770.1,498.7 L1770.9,499.3 L1771.6,499.9 L1772.2,500.4 M1782.3,510.1 L1782.8,510.6 L1783.5,511.3 L1784.2,512.0 L1784.8,512.7 L1785.5,513.5 L1786.1,514.2 L1786.8,514.9 L1787.4,515.7 L1788.0,516.4 L1788.7,517.2 L1789.3,517.9 L1789.9,518.7 L1790.5,519.4 L1791.0,520.0 M1799.5,531.8 L1799.8,532.3 L1800.4,533.1 L1800.9,533.9 L1801.5,534.8 L1802.0,535.6 L1802.5,536.5 L1803.1,537.3 L1803.6,538.2 L1804.1,539.1 L1804.6,539.9 L1805.2,540.8 L1805.7,541.7 L1806.2,542.6 L1806.5,543.0 M1813.2,555.7 L1813.4,556.0 L1813.9,557.0 L1814.3,557.9 L1814.8,558.8 L1815.3,559.7 L1815.7,560.7 L1816.1,561.6 L1816.6,562.5 L1817.0,563.5 L1817.5,564.4 L1817.9,565.3 L1818.3,566.3 L1818.8,567.2 L1818.9,567.6 M1824.8,581.1 L1824.9,581.5 L1825.3,582.4 L1825.7,583.4 L1826.1,584.3 L1826.5,585.3 L1826.9,586.3 L1827.3,587.2 L1827.6,588.2 L1828.0,589.1 L1828.4,590.1 L1828.8,591.1 L1829.2,592.0 L1829.5,593.0 L1829.7,593.4 M1834.5,605.9 L1834.6,606.4 L1835.0,607.4 L1835.4,608.3 L1835.7,609.3 L1836.1,610.2 L1836.4,611.2 L1836.8,612.1 L1837.1,613.1 L1837.5,614.0 L1837.8,615.0 L1838.2,615.9 L1838.5,616.9 L1838.8,617.8 L1839.0,618.3 M1844.0,631.7 L1844.0,631.7 L1844.3,632.6 L1844.7,633.5 L1845.0,634.4 L1845.3,635.3 L1845.7,636.2 L1846.0,637.1 L1846.4,638.0 L1846.7,638.9 L1847.0,639.8 L1847.4,640.7 L1847.7,641.5 L1848.1,642.4 L1848.4,643.3" class="sa"/><path d="M1310.6,363.4 L1311.3,361.6 L1312.0,359.8 L1312.7,358.0 L1313.4,356.2 L1314.2,354.4 L1314.9,352.6 L1315.6,350.8 L1316.2,348.9 L1316.9,347.1 L1317.6,345.3 L1318.3,343.4 L1319.0,341.6 L1319.7,339.7 L1320.4,337.8 L1321.1,336.0 L1321.7,334.1 L1322.4,332.2 L1323.1,330.4 L1323.8,328.5 L1324.5,326.6 L1325.2,324.7 L1325.9,322.8 L1326.5,320.9 L1327.2,319.1 L1327.9,317.2 L1328.6,315.3 L1329.3,313.4 L1330.0,311.5 L1330.7,309.6 L1331.4,307.7 L1332.1,305.8 L1332.8,303.9 L1333.5,302.0 L1334.3,300.1 L1335.0,298.2 L1335.7,296.3 L1336.4,294.4 L1337.2,292.5 L1337.9,290.6 L1338.7,288.7 L1339.4,286.8 L1340.2,285.0 L1341.0,283.1 L1341.7,281.2 L1342.5,279.3 L1343.3,277.4 L1344.1,275.6 L1344.9,273.7 L1345.7,271.8 L1346.5,270.0 L1347.4,268.1 L1348.2,266.3 L1349.1,264.4 L1349.9,262.6 L1350.8,260.8 L1351.7,258.9 L1352.6,257.1 L1353.5,255.3 L1354.4,253.5 L1355.3,251.7 L1356.2,249.9 L1357.2,248.1 L1358.1,246.3 L1359.1,244.5 L1360.1,242.8 L1361.1,241.0 L1362.1,239.3 L1363.1,237.5 L1364.1,235.8 L1365.2,234.1 L1366.2,232.4 L1367.3,230.7 L1368.4,229.0 L1369.5,227.3 L1370.6,225.6 L1371.7,223.9 L1372.9,222.3 L1374.1,220.6 L1375.2,219.0 L1376.4,217.4 L1377.7,215.8 L1378.9,214.2 L1380.1,212.6 L1381.4,211.0 L1382.7,209.5 L1384.0,207.9 L1385.3,206.4 L1386.6,204.9 L1388.0,203.4 L1389.4,201.9 L1390.8,200.4 L1392.2,198.9 L1393.6,197.5 L1395.1,196.1 L1396.5,194.7 L1398.0,193.3 L1399.5,191.9 L1401.0,190.5 L1402.6,189.2 L1404.1,187.9 L1405.7,186.6 L1407.3,185.3 L1408.9,184.1 L1410.5,182.9 L1412.1,181.7 L1413.8,180.5 L1415.4,179.4 L1417.1,178.3 L1418.8,177.2 L1420.5,176.2 L1422.2,175.2 L1423.9,174.2 L1425.7,173.3 L1427.4,172.4 L1429.2,171.5 L1430.9,170.7 L1432.7,169.9 L1434.5,169.1 L1436.3,168.4 L1438.1,167.7 L1439.9,167.1 L1441.7,166.5 L1443.6,165.9 L1445.4,165.4 L1447.3,165.0 L1449.1,164.6 L1451.0,164.2 L1452.9,163.9 L1454.7,163.6 L1456.6,163.4 L1458.5,163.2 L1460.4,163.0 L1462.3,162.9 L1464.2,162.9 L1466.1,162.9 L1468.0,162.9 L1469.9,163.0 L1471.9,163.1 L1473.8,163.2 L1475.7,163.4 L1477.6,163.6 L1479.6,163.9 L1481.5,164.2 L1483.4,164.5 L1485.4,164.8 L1487.3,165.2 L1489.2,165.6 L1491.2,166.1 L1493.1,166.6 L1495.0,167.1 L1497.0,167.6 L1498.9,168.2 L1500.9,168.8 L1502.8,169.4 L1504.7,170.0 L1506.7,170.7 L1508.6,171.4 L1510.5,172.1 L1512.4,172.8 L1514.3,173.6 L1516.3,174.4 L1518.2,175.1 L1520.1,176.0 L1522.0,176.8 L1523.9,177.6 L1525.8,178.5 L1527.7,179.4 L1529.6,180.3 L1531.4,181.2 L1533.3,182.1 L1535.2,183.0 L1537.0,183.9 L1538.9,184.9 L1540.7,185.9 L1542.5,186.8 L1544.4,187.8 L1546.2,188.8 L1548.0,189.8 L1549.8,190.8 L1551.6,191.8 L1553.4,192.8 L1555.1,193.8 L1556.9,194.8 L1558.7,195.8 L1560.4,196.8 L1562.2,197.9 L1563.9,198.9 L1565.6,199.9 L1567.4,201.0 L1569.1,202.0 L1570.8,203.1 L1572.5,204.1 L1574.2,205.2 L1575.9,206.2 L1577.6,207.3 L1579.3,208.3 L1581.0,209.4 L1582.7,210.5 L1584.4,211.5 L1586.0,212.6 L1587.7,213.7 L1589.4,214.8 L1591.0,215.8 L1592.7,216.9 L1594.4,218.0 L1596.0,219.1 L1597.7,220.1 L1599.4,221.2 L1601.0,222.3 L1602.7,223.4 L1604.3,224.5 L1606.0,225.5 L1607.6,226.6 L1609.3,227.7 L1610.9,228.8 L1612.6,229.8 L1614.3,230.9 L1615.9,232.0 L1617.6,233.1 L1619.2,234.1 L1620.9,235.2 L1622.6,236.3 L1624.2,237.3 L1625.9,238.4 L1627.6,239.5 L1629.3,240.5 L1631.0,241.6 L1632.6,242.6 L1634.3,243.7 L1636.0,244.7 L1637.7,245.8 L1639.4,246.8 L1641.1,247.8 L1642.8,248.9 L1644.5,249.9 L1646.2,250.9 L1647.9,252.0 L1649.7,253.0 L1651.4,254.0 L1653.1,255.1 L1654.8,256.1 L1656.5,257.1 L1658.3,258.1 L1660.0,259.2 L1661.7,260.2 L1663.5,261.2 L1665.2,262.2 L1666.9,263.2 L1668.6,264.2 L1670.4,265.3 L1672.1,266.3 L1673.9,267.3 L1675.6,268.3 L1677.3,269.3 L1679.1,270.3 L1680.8,271.3 L1682.5,272.3 L1684.3,273.4 L1686.0,274.4 L1687.8,275.4 L1689.5,276.4 L1691.2,277.4 L1693.0,278.4 L1694.7,279.4 L1696.4,280.5 L1698.2,281.5 L1699.9,282.5 L1701.6,283.5 L1703.4,284.5 L1705.1,285.6 L1706.8,286.6 L1708.6,287.6 L1710.3,288.6 L1712.0,289.7 L1713.7,290.7 L1715.5,291.7 L1717.2,292.7 L1718.9,293.8 L1720.6,294.8 L1722.3,295.8 L1724.1,296.9 L1725.8,297.9 L1727.5,298.9 L1729.2,300.0 L1730.9,301.0 L1732.6,302.0 L1734.4,303.0 L1736.1,304.1 L1737.8,305.1 L1739.5,306.1 L1741.2,307.1 L1743.0,308.2 L1744.7,309.2 L1746.4,310.2 L1748.1,311.2 L1749.8,312.2 L1751.6,313.2 L1753.3,314.3 L1755.0,315.3 L1756.8,316.3 L1758.5,317.3 L1760.2,318.3 L1762.0,319.3 L1763.7,320.2 L1765.4,321.2 L1767.2,322.2 L1768.9,323.2 L1770.7,324.2 L1772.4,325.1 L1774.1,326.1 L1775.9,327.1 L1777.7,328.0 L1779.4,329.0 L1781.2,329.9 L1782.9,330.9 L1784.7,331.8 L1786.5,332.7 L1788.2,333.7 L1790.0,334.6 L1791.8,335.5 L1793.6,336.4 L1795.4,337.3 L1797.2,338.2 L1799.0,339.1 L1800.8,340.0 L1802.6,340.8 L1804.4,341.7 L1806.2,342.6 L1808.0,343.4 L1809.8,344.3 L1811.6,345.1 L1813.5,345.9 L1815.3,346.8 L1817.1,347.6 L1819.0,348.4 L1820.8,349.2 L1822.6,350.1 L1824.5,350.9 L1826.3,351.7 L1828.2,352.5 L1830.0,353.3 L1831.9,354.1 L1833.7,354.9 L1835.5,355.7 L1837.4,356.5 L1839.2,357.3 L1841.1,358.1 L1842.9,358.9 L1844.8,359.7 L1846.6,360.5 L1848.5,361.3 L1850.3,362.1 L1852.2,362.9 L1854.0,363.7 L1855.8,364.5 L1857.7,365.4 L1859.5,366.2 L1861.3,367.0 L1863.1,367.8 L1865.0,368.7 L1866.8,369.5 L1868.6,370.4 L1870.4,371.2 L1872.2,372.1 L1874.0,372.9 L1875.8,373.8 L1877.6,374.7 L1879.4,375.6 L1881.2,376.5 L1883.0,377.4 L1884.7,378.3 L1886.5,379.2 L1888.3,380.2 L1890.0,381.1 L1891.7,382.1 L1893.5,383.0 L1895.2,384.0 L1896.9,385.0 L1898.7,386.0 L1900.4,387.0 L1902.1,388.0 L1903.7,389.1 L1905.4,390.1 L1907.1,391.2 L1908.8,392.3 L1910.4,393.4 L1912.1,394.5 L1913.7,395.6 L1915.3,396.8 L1916.9,397.9 L1918.5,399.1 L1920.1,400.3 L1921.7,401.4 L1923.3,402.7 L1924.9,403.9 L1926.5,405.1 L1928.0,406.3 L1929.6,407.6 L1931.1,408.9 L1932.6,410.2 L1934.1,411.4 L1935.7,412.7 L1937.2,414.1 L1938.7,415.4 L1940.1,416.7 L1941.6,418.1 L1943.1,419.4 L1944.6,420.8 L1946.0,422.1 L1947.5,423.5 L1948.9,424.9 L1950.3,426.3 L1951.8,427.7 L1953.2,429.1 L1954.6,430.6 L1956.0,432.0 L1957.4,433.4 L1958.8,434.9 L1960.2,436.3 L1961.6,437.8 L1962.9,439.3 L1964.3,440.8 L1965.7,442.2 L1967.0,443.7 L1968.4,445.2 L1969.7,446.7 L1971.0,448.2 L1972.3,449.7 L1973.7,451.3 L1975.0,452.8 L1976.3,454.3 L1977.6,455.9 L1978.8,457.4 L1980.1,459.0 L1981.4,460.5 L1982.6,462.1 L1983.9,463.7 L1985.1,465.3 L1986.4,466.8 L1987.6,468.4 L1988.8,470.0 L1990.0,471.6 L1991.2,473.2 L1992.4,474.9 L1993.6,476.5 L1994.8,478.1 L1996.0,479.7 L1997.1,481.4 L1998.3,483.0 L1999.4,484.7 L2000.6,486.3 L2001.7,488.0 L2002.8,489.6 L2003.9,491.3 L2005.0,493.0 L2006.1,494.7 L2007.2,496.4 L2008.3,498.1 L2009.3,499.8 L2010.4,501.5 L2011.4,503.2 L2012.5,504.9 L2013.5,506.6 L2014.5,508.3 L2015.5,510.0 L2016.5,511.8 L2017.5,513.5 L2018.5,515.3 L2019.4,517.0 L2020.4,518.8 L2021.3,520.5 L2022.3,522.3 L2023.2,524.0 L2024.1,525.8 L2025.0,527.6 L2025.9,529.4 L2026.8,531.2 L2027.6,532.9 L2028.5,534.7 L2029.4,536.5 L2030.2,538.3 L2031.0,540.1 L2031.8,541.9 L2032.6,543.8 L2033.4,545.6 L2034.2,547.4 L2035.0,549.2 L2035.8,551.1 L2036.5,552.9" class="sc1" style="stroke-width:6.6px"/><path d="M1310.6,363.4 L1311.3,361.6 L1312.0,359.8 L1312.7,358.0 L1313.4,356.2 L1314.2,354.4 L1314.9,352.6 L1315.6,350.8 L1316.2,348.9 L1316.9,347.1 L1317.6,345.3 L1318.3,343.4 L1319.0,341.6 L1319.7,339.7 L1320.4,337.8 L1321.1,336.0 L1321.7,334.1 L1322.4,332.2 L1323.1,330.4 L1323.8,328.5 L1324.5,326.6 L1325.2,324.7 L1325.9,322.8 L1326.5,320.9 L1327.2,319.1 L1327.9,317.2 L1328.6,315.3 L1329.3,313.4 L1330.0,311.5 L1330.7,309.6 L1331.4,307.7 L1332.1,305.8 L1332.8,303.9 L1333.5,302.0 L1334.3,300.1 L1335.0,298.2 L1335.7,296.3 L1336.4,294.4 L1337.2,292.5 L1337.9,290.6 L1338.7,288.7 L1339.4,286.8 L1340.2,285.0 L1341.0,283.1 L1341.7,281.2 L1342.5,279.3 L1343.3,277.4 L1344.1,275.6 L1344.9,273.7 L1345.7,271.8 L1346.5,270.0 L1347.4,268.1 L1348.2,266.3 L1349.1,264.4 L1349.9,262.6 L1350.8,260.8 L1351.7,258.9 L1352.6,257.1 L1353.5,255.3 L1354.4,253.5 L1355.3,251.7 L1356.2,249.9 L1357.2,248.1 L1358.1,246.3 L1359.1,244.5 L1360.1,242.8 L1361.1,241.0 L1362.1,239.3 L1363.1,237.5 L1364.1,235.8 L1365.2,234.1 L1366.2,232.4 L1367.3,230.7 L1368.4,229.0 L1369.5,227.3 L1370.6,225.6 L1371.7,223.9 L1372.9,222.3 L1374.1,220.6 L1375.2,219.0 L1376.4,217.4 L1377.7,215.8 L1378.9,214.2 L1380.1,212.6 L1381.4,211.0 L1382.7,209.5 L1384.0,207.9 L1385.3,206.4 L1386.6,204.9 L1388.0,203.4 L1389.4,201.9 L1390.8,200.4 L1392.2,198.9 L1393.6,197.5 L1395.1,196.1 L1396.5,194.7 L1398.0,193.3 L1399.5,191.9 L1401.0,190.5 L1402.6,189.2 L1404.1,187.9 L1405.7,186.6 L1407.3,185.3 L1408.9,184.1 L1410.5,182.9 L1412.1,181.7 L1413.8,180.5 L1415.4,179.4 L1417.1,178.3 L1418.8,177.2 L1420.5,176.2 L1422.2,175.2 L1423.9,174.2 L1425.7,173.3 L1427.4,172.4 L1429.2,171.5 L1430.9,170.7 L1432.7,169.9 L1434.5,169.1 L1436.3,168.4 L1438.1,167.7 L1439.9,167.1 L1441.7,166.5 L1443.6,165.9 L1445.4,165.4 L1447.3,165.0 L1449.1,164.6 L1451.0,164.2 L1452.9,163.9 L1454.7,163.6 L1456.6,163.4 L1458.5,163.2 L1460.4,163.0 L1462.3,162.9 L1464.2,162.9 L1466.1,162.9 L1468.0,162.9 L1469.9,163.0 L1471.9,163.1 L1473.8,163.2 L1475.7,163.4 L1477.6,163.6 L1479.6,163.9 L1481.5,164.2 L1483.4,164.5 L1485.4,164.8 L1487.3,165.2 L1489.2,165.6 L1491.2,166.1 L1493.1,166.6 L1495.0,167.1 L1497.0,167.6 L1498.9,168.2 L1500.9,168.8 L1502.8,169.4 L1504.7,170.0 L1506.7,170.7 L1508.6,171.4 L1510.5,172.1 L1512.4,172.8 L1514.3,173.6 L1516.3,174.4 L1518.2,175.1 L1520.1,176.0 L1522.0,176.8 L1523.9,177.6 L1525.8,178.5 L1527.7,179.4 L1529.6,180.3 L1531.4,181.2 L1533.3,182.1 L1535.2,183.0 L1537.0,183.9 L1538.9,184.9 L1540.7,185.9 L1542.5,186.8 L1544.4,187.8 L1546.2,188.8 L1548.0,189.8 L1549.8,190.8 L1551.6,191.8 L1553.4,192.8 L1555.1,193.8 L1556.9,194.8 L1558.7,195.8 L1560.4,196.8 L1562.2,197.9 L1563.9,198.9 L1565.6,199.9 L1567.4,201.0 L1569.1,202.0 L1570.8,203.1 L1572.5,204.1 L1574.2,205.2 L1575.9,206.2 L1577.6,207.3 L1579.3,208.3 L1581.0,209.4 L1582.7,210.5 L1584.4,211.5 L1586.0,212.6 L1587.7,213.7 L1589.4,214.8 L1591.0,215.8 L1592.7,216.9 L1594.4,218.0 L1596.0,219.1 L1597.7,220.1 L1599.4,221.2 L1601.0,222.3 L1602.7,223.4 L1604.3,224.5 L1606.0,225.5 L1607.6,226.6 L1609.3,227.7 L1610.9,228.8 L1612.6,229.8 L1614.3,230.9 L1615.9,232.0 L1617.6,233.1 L1619.2,234.1 L1620.9,235.2 L1622.6,236.3 L1624.2,237.3 L1625.9,238.4 L1627.6,239.5 L1629.3,240.5 L1631.0,241.6 L1632.6,242.6 L1634.3,243.7 L1636.0,244.7 L1637.7,245.8 L1639.4,246.8 L1641.1,247.8 L1642.8,248.9 L1644.5,249.9 L1646.2,250.9 L1647.9,252.0 L1649.7,253.0 L1651.4,254.0 L1653.1,255.1 L1654.8,256.1 L1656.5,257.1 L1658.3,258.1 L1660.0,259.2 L1661.7,260.2 L1663.5,261.2 L1665.2,262.2 L1666.9,263.2 L1668.6,264.2 L1670.4,265.3 L1672.1,266.3 L1673.9,267.3 L1675.6,268.3 L1677.3,269.3 L1679.1,270.3 L1680.8,271.3 L1682.5,272.3 L1684.3,273.4 L1686.0,274.4 L1687.8,275.4 L1689.5,276.4 L1691.2,277.4 L1693.0,278.4 L1694.7,279.4 L1696.4,280.5 L1698.2,281.5 L1699.9,282.5 L1701.6,283.5 L1703.4,284.5 L1705.1,285.6 L1706.8,286.6 L1708.6,287.6 L1710.3,288.6 L1712.0,289.7 L1713.7,290.7 L1715.5,291.7 L1717.2,292.7 L1718.9,293.8 L1720.6,294.8 L1722.3,295.8 L1724.1,296.9 L1725.8,297.9 L1727.5,298.9 L1729.2,300.0 L1730.9,301.0 L1732.6,302.0 L1734.4,303.0 L1736.1,304.1 L1737.8,305.1 L1739.5,306.1 L1741.2,307.1 L1743.0,308.2 L1744.7,309.2 L1746.4,310.2 L1748.1,311.2 L1749.8,312.2 L1751.6,313.2 L1753.3,314.3 L1755.0,315.3 L1756.8,316.3 L1758.5,317.3 L1760.2,318.3 L1762.0,319.3 L1763.7,320.2 L1765.4,321.2 L1767.2,322.2 L1768.9,323.2 L1770.7,324.2 L1772.4,325.1 L1774.1,326.1 L1775.9,327.1 L1777.7,328.0 L1779.4,329.0 L1781.2,329.9 L1782.9,330.9 L1784.7,331.8 L1786.5,332.7 L1788.2,333.7 L1790.0,334.6 L1791.8,335.5 L1793.6,336.4 L1795.4,337.3 L1797.2,338.2 L1799.0,339.1 L1800.8,340.0 L1802.6,340.8 L1804.4,341.7 L1806.2,342.6 L1808.0,343.4 L1809.8,344.3 L1811.6,345.1 L1813.5,345.9 L1815.3,346.8 L1817.1,347.6 L1819.0,348.4 L1820.8,349.2 L1822.6,350.1 L1824.5,350.9 L1826.3,351.7 L1828.2,352.5 L1830.0,353.3 L1831.9,354.1 L1833.7,354.9 L1835.5,355.7 L1837.4,356.5 L1839.2,357.3 L1841.1,358.1 L1842.9,358.9 L1844.8,359.7 L1846.6,360.5 L1848.5,361.3 L1850.3,362.1 L1852.2,362.9 L1854.0,363.7 L1855.8,364.5 L1857.7,365.4 L1859.5,366.2 L1861.3,367.0 L1863.1,367.8 L1865.0,368.7 L1866.8,369.5 L1868.6,370.4 L1870.4,371.2 L1872.2,372.1 L1874.0,372.9 L1875.8,373.8 L1877.6,374.7 L1879.4,375.6 L1881.2,376.5 L1883.0,377.4 L1884.7,378.3 L1886.5,379.2 L1888.3,380.2 L1890.0,381.1 L1891.7,382.1 L1893.5,383.0 L1895.2,384.0 L1896.9,385.0 L1898.7,386.0 L1900.4,387.0 L1902.1,388.0 L1903.7,389.1 L1905.4,390.1 L1907.1,391.2 L1908.8,392.3 L1910.4,393.4 L1912.1,394.5 L1913.7,395.6 L1915.3,396.8 L1916.9,397.9 L1918.5,399.1 L1920.1,400.3 L1921.7,401.4 L1923.3,402.7 L1924.9,403.9 L1926.5,405.1 L1928.0,406.3 L1929.6,407.6 L1931.1,408.9 L1932.6,410.2 L1934.1,411.4 L1935.7,412.7 L1937.2,414.1 L1938.7,415.4 L1940.1,416.7 L1941.6,418.1 L1943.1,419.4 L1944.6,420.8 L1946.0,422.1 L1947.5,423.5 L1948.9,424.9 L1950.3,426.3 L1951.8,427.7 L1953.2,429.1 L1954.6,430.6 L1956.0,432.0 L1957.4,433.4 L1958.8,434.9 L1960.2,436.3 L1961.6,437.8 L1962.9,439.3 L1964.3,440.8 L1965.7,442.2 L1967.0,443.7 L1968.4,445.2 L1969.7,446.7 L1971.0,448.2 L1972.3,449.7 L1973.7,451.3 L1975.0,452.8 L1976.3,454.3 L1977.6,455.9 L1978.8,457.4 L1980.1,459.0 L1981.4,460.5 L1982.6,462.1 L1983.9,463.7 L1985.1,465.3 L1986.4,466.8 L1987.6,468.4 L1988.8,470.0 L1990.0,471.6 L1991.2,473.2 L1992.4,474.9 L1993.6,476.5 L1994.8,478.1 L1996.0,479.7 L1997.1,481.4 L1998.3,483.0 L1999.4,484.7 L2000.6,486.3 L2001.7,488.0 L2002.8,489.6 L2003.9,491.3 L2005.0,493.0 L2006.1,494.7 L2007.2,496.4 L2008.3,498.1 L2009.3,499.8 L2010.4,501.5 L2011.4,503.2 L2012.5,504.9 L2013.5,506.6 L2014.5,508.3 L2015.5,510.0 L2016.5,511.8 L2017.5,513.5 L2018.5,515.3 L2019.4,517.0 L2020.4,518.8 L2021.3,520.5 L2022.3,522.3 L2023.2,524.0 L2024.1,525.8 L2025.0,527.6 L2025.9,529.4 L2026.8,531.2 L2027.6,532.9 L2028.5,534.7 L2029.4,536.5 L2030.2,538.3 L2031.0,540.1 L2031.8,541.9 L2032.6,543.8 L2033.4,545.6 L2034.2,547.4 L2035.0,549.2 L2035.8,551.1 L2036.5,552.9" class="sc2" style="stroke-width:2.2px"/></g>
<g stroke="#000" stroke-width="6.2" stroke-linecap="round"><line x1="546.1" y1="684.9" x2="677.6" y2="684.9"/><line x1="546.1" y1="741.9" x2="565.7" y2="741.9"/><line x1="592.3" y1="741.9" x2="611.9" y2="741.9"/><line x1="638.7" y1="741.9" x2="658.2" y2="741.9"/><line x1="546.2" y1="858.4" x2="559.6" y2="858.4"/><line x1="572.7" y1="858.4" x2="585.3" y2="858.4"/><line x1="599.5" y1="858.4" x2="611.8" y2="858.4"/><line x1="625.7" y1="858.4" x2="638.0" y2="858.4"/><line x1="651.8" y1="858.4" x2="664.6" y2="858.4"/></g>
<line x1="545.2" y1="800.3" x2="679.3" y2="800.3" stroke="#000" stroke-width="8.6" stroke-linecap="round"/>
<line x1="545.4" y1="799.1" x2="679.1" y2="799.1" stroke="#8a8a8a" stroke-width="2.3"/>
<line x1="545.4" y1="801.4" x2="679.1" y2="801.4" stroke="#c4c4c4" stroke-width="2.3"/>
<g stroke="#000" stroke-width="6.2" stroke-linecap="round"><line x1="1641.6" y1="705.6" x2="1780.8" y2="705.6"/><line x1="1641.6" y1="762.7" x2="1662.0" y2="762.7"/><line x1="1689.1" y1="762.7" x2="1710.3" y2="762.7"/><line x1="1737.6" y1="762.7" x2="1758.1" y2="762.7"/><line x1="1641.6" y1="875.3" x2="1654.7" y2="875.3"/><line x1="1668.7" y1="875.3" x2="1682.1" y2="875.3"/><line x1="1696.5" y1="875.3" x2="1709.6" y2="875.3"/><line x1="1723.8" y1="875.3" x2="1737.0" y2="875.3"/><line x1="1751.4" y1="875.3" x2="1764.8" y2="875.3"/><line x1="1778.8" y1="875.3" x2="1780.8" y2="875.3"/></g>
<line x1="1642.8" y1="819.0" x2="1779.6" y2="819.0" stroke="#000" stroke-width="8.6" stroke-linecap="round"/>
<line x1="1643.0" y1="817.9" x2="1779.4" y2="817.9" stroke="#8a8a8a" stroke-width="2.3"/>
<line x1="1643.0" y1="820.1" x2="1779.4" y2="820.1" stroke="#c4c4c4" stroke-width="2.3"/>
<g font-family="'Liberation Serif', 'DejaVu Serif', serif" fill="#000"><text x="150.3" y="929.8" font-size="41.4" text-anchor="middle" textLength="22.1" lengthAdjust="spacingAndGlyphs" class="g0">0</text><text x="126.3" y="844.5" font-size="41.4" text-anchor="middle" textLength="69.6" lengthAdjust="spacingAndGlyphs" class="g0">200</text><text x="126.8" y="759.1" font-size="41.4" text-anchor="middle" textLength="68.6" lengthAdjust="spacingAndGlyphs" class="g0">400</text><text x="126.3" y="673.8" font-size="41.4" text-anchor="middle" textLength="69.6" lengthAdjust="spacingAndGlyphs" class="g0">600</text><text x="126.8" y="588.5" font-size="41.4" text-anchor="middle" textLength="68.6" lengthAdjust="spacingAndGlyphs" class="g0">800</text><text x="113.7" y="503.1" font-size="41.4" text-anchor="middle" textLength="95.0" lengthAdjust="spacingAndGlyphs" class="g0">1000</text><text x="113.7" y="417.8" font-size="41.4" text-anchor="middle" textLength="94.9" lengthAdjust="spacingAndGlyphs" class="g0">1200</text><text x="113.7" y="332.5" font-size="41.4" text-anchor="middle" textLength="95.0" lengthAdjust="spacingAndGlyphs" class="g0">1400</text><text x="113.7" y="247.2" font-size="41.4" text-anchor="middle" textLength="95.0" lengthAdjust="spacingAndGlyphs" class="g0">1600</text><text x="113.7" y="161.8" font-size="41.4" text-anchor="middle" textLength="95.0" lengthAdjust="spacingAndGlyphs" class="g0">1800</text><text x="114.2" y="76.5" font-size="41.4" text-anchor="middle" textLength="93.8" lengthAdjust="spacingAndGlyphs" class="g0">2000</text><text x="198.7" y="981.3" font-size="41.4" text-anchor="middle" textLength="22.5" lengthAdjust="spacingAndGlyphs" class="g0">0</text><text x="324.9" y="981.3" font-size="41.4" text-anchor="middle" textLength="77.5" lengthAdjust="spacingAndGlyphs" class="g0">0.03</text><text x="450.2" y="981.3" font-size="41.4" text-anchor="middle" textLength="76.7" lengthAdjust="spacingAndGlyphs" class="g0">0.06</text><text x="577.1" y="981.3" font-size="41.4" text-anchor="middle" textLength="78.2" lengthAdjust="spacingAndGlyphs" class="g0">0.09</text><text x="703.6" y="981.3" font-size="41.4" text-anchor="middle" textLength="79.4" lengthAdjust="spacingAndGlyphs" class="g0">0.12</text><text x="828.0" y="981.3" font-size="41.4" text-anchor="middle" textLength="76.4" lengthAdjust="spacingAndGlyphs" class="g0">0.15</text><text x="955.1" y="981.3" font-size="41.4" text-anchor="middle" textLength="78.3" lengthAdjust="spacingAndGlyphs" class="g0">0.18</text><text x="1205.0" y="944.8" font-size="43.5" text-anchor="middle" textLength="80.2" lengthAdjust="spacingAndGlyphs" class="g0">0.00</text><text x="1205.5" y="833.1" font-size="43.5" text-anchor="middle" textLength="81.2" lengthAdjust="spacingAndGlyphs" class="g0">0.05</text><text x="1205.0" y="721.4" font-size="43.5" text-anchor="middle" textLength="80.2" lengthAdjust="spacingAndGlyphs" class="g0">0.10</text><text x="1205.5" y="609.7" font-size="43.5" text-anchor="middle" textLength="81.2" lengthAdjust="spacingAndGlyphs" class="g0">0.15</text><text x="1205.0" y="498.0" font-size="43.5" text-anchor="middle" textLength="80.2" lengthAdjust="spacingAndGlyphs" class="g0">0.20</text><text x="1205.5" y="386.2" font-size="43.5" text-anchor="middle" textLength="81.2" lengthAdjust="spacingAndGlyphs" class="g0">0.25</text><text x="1205.0" y="274.5" font-size="43.5" text-anchor="middle" textLength="80.2" lengthAdjust="spacingAndGlyphs" class="g0">0.30</text><text x="1205.5" y="162.8" font-size="43.5" text-anchor="middle" textLength="81.2" lengthAdjust="spacingAndGlyphs" class="g0">0.35</text><text x="1205.0" y="51.1" font-size="43.5" text-anchor="middle" textLength="80.2" lengthAdjust="spacingAndGlyphs" class="g0">0.40</text><text x="1286.0" y="999.4" font-size="43.5" text-anchor="middle" textLength="24.4" lengthAdjust="spacingAndGlyphs" class="g0">0</text><text x="1420.2" y="999.4" font-size="43.5" text-anchor="middle" textLength="80.0" lengthAdjust="spacingAndGlyphs" class="g0">0.03</text><text x="1556.8" y="999.4" font-size="43.5" text-anchor="middle" textLength="81.5" lengthAdjust="spacingAndGlyphs" class="g0">0.06</text><text x="1692.5" y="999.4" font-size="43.5" text-anchor="middle" textLength="82.0" lengthAdjust="spacingAndGlyphs" class="g0">0.09</text><text x="1827.9" y="999.4" font-size="43.5" text-anchor="middle" textLength="83.0" lengthAdjust="spacingAndGlyphs" class="g0">0.12</text><text x="1962.5" y="999.4" font-size="43.5" text-anchor="middle" textLength="82.8" lengthAdjust="spacingAndGlyphs" class="g0">0.15</text><text x="2100.2" y="999.4" font-size="43.5" text-anchor="middle" textLength="82.8" lengthAdjust="spacingAndGlyphs" class="g0">0.18</text><text x="575.2" y="1037.4" font-size="42.5" text-anchor="middle" font-weight="bold" textLength="286.5" lengthAdjust="spacingAndGlyphs" class="g0">True Strain (ε)</text><text x="52.4" y="492.2" font-size="42.5" text-anchor="middle" font-weight="bold" textLength="285.8" lengthAdjust="spacingAndGlyphs" transform="rotate(-90 52.4 492.2)" class="g0">True stress (σ)</text><text x="1690.0" y="1052.2" font-size="44.0" text-anchor="middle" font-weight="bold" textLength="297.7" lengthAdjust="spacingAndGlyphs" class="g0">True Strain (ε)</text><text x="1136.3" y="488.5" font-size="44.0" text-anchor="middle" font-weight="bold" textLength="528.6" lengthAdjust="spacingAndGlyphs" transform="rotate(-90 1136.3 488.5)" class="g0">Strain hardening (n value)</text><text x="344.8" y="509.3" font-size="44.0" text-anchor="middle" textLength="31.6" lengthAdjust="spacingAndGlyphs" class="g0">σ</text><text x="735.6" y="696.4" font-size="40.5" text-anchor="middle" textLength="89.7" lengthAdjust="spacingAndGlyphs" class="g1">Steel</text><text x="802.9" y="696.4" font-size="40.5" text-anchor="middle" textLength="27.0" lengthAdjust="spacingAndGlyphs" class="g2">A</text><text x="860.8" y="696.4" font-size="40.5" text-anchor="middle" textLength="72.0" lengthAdjust="spacingAndGlyphs" class="g1">810</text><text x="735.6" y="756.0" font-size="40.5" text-anchor="middle" textLength="89.7" lengthAdjust="spacingAndGlyphs" class="g2">Steel</text><text x="802.9" y="756.0" font-size="40.5" text-anchor="middle" textLength="26.0" lengthAdjust="spacingAndGlyphs" class="g1">B</text><text x="735.6" y="812.3" font-size="40.5" text-anchor="middle" textLength="89.7" lengthAdjust="spacingAndGlyphs" class="g2">Steel</text><text x="801.5" y="812.3" font-size="40.5" text-anchor="middle" textLength="23.6" lengthAdjust="spacingAndGlyphs" class="g1">C</text><text x="735.6" y="872.2" font-size="40.5" text-anchor="middle" textLength="89.7" lengthAdjust="spacingAndGlyphs" class="g2">Steel</text><text x="803.6" y="872.2" font-size="40.5" text-anchor="middle" textLength="27.6" lengthAdjust="spacingAndGlyphs" class="g1">D</text><text x="1841.2" y="720.0" font-size="42.5" text-anchor="middle" textLength="93.8" lengthAdjust="spacingAndGlyphs" class="g2">Steel</text><text x="1910.4" y="720.0" font-size="42.5" text-anchor="middle" textLength="28.3" lengthAdjust="spacingAndGlyphs" class="g1">A</text><text x="1971.3" y="720.0" font-size="42.5" text-anchor="middle" textLength="74.7" lengthAdjust="spacingAndGlyphs" class="g2">810</text><text x="1841.2" y="775.2" font-size="42.5" text-anchor="middle" textLength="93.8" lengthAdjust="spacingAndGlyphs" class="g1">Steel</text><text x="1910.9" y="775.2" font-size="42.5" text-anchor="middle" textLength="26.2" lengthAdjust="spacingAndGlyphs" class="g2">B</text><text x="1841.2" y="832.4" font-size="42.5" text-anchor="middle" textLength="93.8" lengthAdjust="spacingAndGlyphs" class="g1">Steel</text><text x="1910.2" y="832.4" font-size="42.5" text-anchor="middle" textLength="25.1" lengthAdjust="spacingAndGlyphs" class="g2">C</text><text x="1841.2" y="889.0" font-size="42.5" text-anchor="middle" textLength="93.8" lengthAdjust="spacingAndGlyphs" class="g1">Steel</text><text x="1911.7" y="889.0" font-size="42.5" text-anchor="middle" textLength="27.8" lengthAdjust="spacingAndGlyphs" class="g2">D</text><text x="859.2" y="756.0" font-size="40.5" text-anchor="middle" textLength="69.0" lengthAdjust="spacingAndGlyphs" class="g1">830</text><text x="904.5" y="763.8" font-size="54.7" text-anchor="middle" textLength="19.0" lengthAdjust="spacingAndGlyphs" class="g2">/</text><text x="952.2" y="756.0" font-size="40.5" text-anchor="middle" textLength="69.1" lengthAdjust="spacingAndGlyphs" class="g1">450</text><text x="856.1" y="812.3" font-size="40.5" text-anchor="middle" textLength="67.9" lengthAdjust="spacingAndGlyphs" class="g2">830</text><text x="903.0" y="820.8" font-size="54.7" text-anchor="middle" textLength="18.6" lengthAdjust="spacingAndGlyphs" class="g1">/</text><text x="950.1" y="812.3" font-size="40.5" text-anchor="middle" textLength="68.2" lengthAdjust="spacingAndGlyphs" class="g2">450</text><text x="860.9" y="872.2" font-size="40.5" text-anchor="middle" textLength="68.9" lengthAdjust="spacingAndGlyphs" class="g1">830</text><text x="907.2" y="880.8" font-size="54.7" text-anchor="middle" textLength="18.6" lengthAdjust="spacingAndGlyphs" class="g2">/</text><text x="954.1" y="872.2" font-size="40.5" text-anchor="middle" textLength="67.9" lengthAdjust="spacingAndGlyphs" class="g1">450</text><text x="1969.5" y="775.2" font-size="42.5" text-anchor="middle" textLength="70.5" lengthAdjust="spacingAndGlyphs" class="g2">830</text><text x="2017.4" y="783.5" font-size="57.7" text-anchor="middle" textLength="19.9" lengthAdjust="spacingAndGlyphs" class="g1">/</text><text x="2066.7" y="775.2" font-size="42.5" text-anchor="middle" textLength="71.3" lengthAdjust="spacingAndGlyphs" class="g2">450</text><text x="1966.8" y="832.4" font-size="42.5" text-anchor="middle" textLength="70.2" lengthAdjust="spacingAndGlyphs" class="g1">830</text><text x="2015.3" y="840.5" font-size="57.7" text-anchor="middle" textLength="19.0" lengthAdjust="spacingAndGlyphs" class="g2">/</text><text x="2063.9" y="832.4" font-size="42.5" text-anchor="middle" textLength="70.5" lengthAdjust="spacingAndGlyphs" class="g1">450</text><text x="1971.2" y="889.0" font-size="42.5" text-anchor="middle" textLength="70.5" lengthAdjust="spacingAndGlyphs" class="g2">830</text><text x="2019.0" y="897.5" font-size="57.7" text-anchor="middle" textLength="20.0" lengthAdjust="spacingAndGlyphs" class="g1">/</text><text x="2068.0" y="889.0" font-size="42.5" text-anchor="middle" textLength="70.7" lengthAdjust="spacingAndGlyphs" class="g2">450</text><text x="876.0" y="177.5" font-size="52.0" text-anchor="middle" textLength="61.1" lengthAdjust="spacingAndGlyphs" class="g1">dσ</text><text x="917.9" y="186.7" font-size="70.5" text-anchor="middle" textLength="24.1" lengthAdjust="spacingAndGlyphs" class="g2">/</text><text x="959.0" y="177.5" font-size="52.0" text-anchor="middle" textLength="54.5" lengthAdjust="spacingAndGlyphs" class="g1">dε</text><text x="1562.1" y="130.9" font-size="52.5" text-anchor="middle" textLength="147.2" lengthAdjust="spacingAndGlyphs" class="g2">d(lnσ)</text><text x="1651.3" y="142.6" font-size="75.8" text-anchor="middle" textLength="23.9" lengthAdjust="spacingAndGlyphs" class="g1">/</text><text x="1735.2" y="130.9" font-size="52.5" text-anchor="middle" textLength="140.3" lengthAdjust="spacingAndGlyphs" class="g2">d(lnε)</text><text x="474.3" y="1159.3" font-size="86.5" text-anchor="middle" textLength="26.4" lengthAdjust="spacingAndGlyphs" class="g1">(</text><text x="508.5" y="1159.3" font-size="86.5" text-anchor="middle" font-weight="bold" textLength="40.7" lengthAdjust="spacingAndGlyphs" class="g2">a</text><text x="542.3" y="1159.3" font-size="86.5" text-anchor="middle" textLength="25.8" lengthAdjust="spacingAndGlyphs" class="g1">)</text><text x="1585.6" y="1160.0" font-size="86.5" text-anchor="middle" textLength="24.8" lengthAdjust="spacingAndGlyphs" class="g1">(</text><text x="1624.2" y="1160.0" font-size="89.5" text-anchor="middle" font-weight="bold" textLength="51.5" lengthAdjust="spacingAndGlyphs" class="g2">b</text><text x="1663.3" y="1160.0" font-size="86.5" text-anchor="middle" textLength="25.8" lengthAdjust="spacingAndGlyphs" class="g1">)</text></g>
</svg></body></html>
